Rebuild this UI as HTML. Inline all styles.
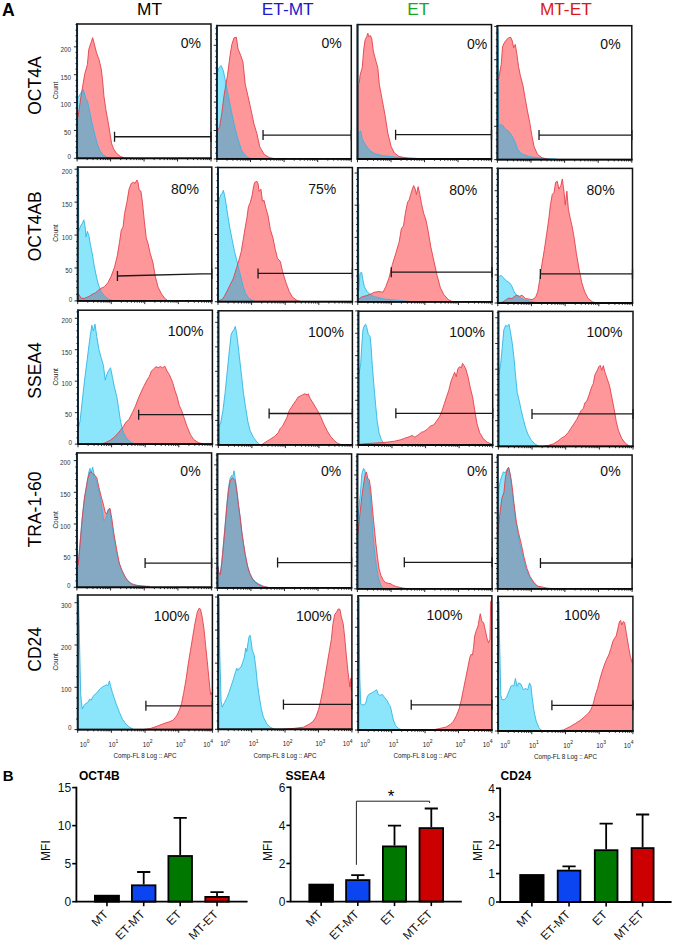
<!DOCTYPE html>
<html><head><meta charset="utf-8"><title>Figure</title>
<style>html,body{margin:0;padding:0;background:#fff;width:675px;height:943px;overflow:hidden}
svg{display:block;font-family:"Liberation Sans",sans-serif}</style></head>
<body><svg width="675" height="943" viewBox="0 0 675 943" font-family="'Liberation Sans', sans-serif"><defs><clipPath id="pc1"><rect x="77.1" y="24" width="133.9" height="134.3"/></clipPath><clipPath id="rc1"><polygon points="77.1,158.3 77.1,117.11 78,117.11 81.19,94.96 84.69,74.21 87.38,64.59 88.78,49.36 90.88,43.14 92.68,37.63 94.27,43.84 96.37,52.16 99.07,59.78 101.16,68.7 102.56,79.82 103.96,96.36 105.96,110.19 108.75,125.43 111.55,143.37 113.55,148.88 116.34,153.09 120.44,156.5 124.63,157.9 132.92,158.3 132.92,158.3"/></clipPath><clipPath id="pc2"><rect x="216.9" y="25.6" width="134.4" height="133.3"/></clipPath><clipPath id="rc2"><polygon points="216.9,158.9 216.9,131.1 217.2,131.1 219.61,126.7 221.81,113.3 224.02,95.6 227.43,75.6 230.04,55.6 231.84,44.4 234.05,37.8 236.36,37.3 238.06,48.9 240.77,55.6 242.98,62.2 245.28,84.4 247.89,95.6 250.8,108.9 254.11,124.4 256.82,133.3 259.73,146.7 264.14,154.4 269.76,157.8 276.48,158.9 276.48,158.9"/></clipPath><clipPath id="pc3"><rect x="357.5" y="24.6" width="134" height="134.4"/></clipPath><clipPath id="rc3"><polygon points="357.5,159 357.5,83.17 359.3,83.17 360,75.49 362.2,67.7 363.8,48.85 365.1,39.97 366.7,36.67 367.8,33.28 368.9,36.67 370.4,35.58 371.8,38.87 373.3,51.04 375.6,59.92 377.8,67.7 379.3,84.27 382.2,99.83 385.1,115.4 387.8,133.06 391.1,146.43 394.4,153.01 398.9,156.41 407.8,158.3 407.8,159"/></clipPath><clipPath id="pc4"><rect x="497.4" y="25.7" width="134.4" height="133.9"/></clipPath><clipPath id="rc4"><polygon points="497.4,159.6 497.4,78.9 498.5,78.9 499.61,73.3 501.21,64.4 502.52,46.7 504.02,43.3 506.33,40 508.53,37.8 510.74,37.3 512.34,41.1 513.65,47.8 515.25,44.4 516.76,53.3 518.56,66.7 520.37,75.6 522.98,85.6 525.28,98.9 527.49,111.1 529.7,122.2 531.9,135.6 534.11,146.7 537.52,154.4 541.93,157.8 547.55,159.1 547.55,159.6"/></clipPath><clipPath id="pc5"><rect x="77.7" y="167.1" width="134.1" height="133.8"/></clipPath><clipPath id="rc5"><polygon points="77.7,300.9 77.7,293.77 78.4,293.77 81.11,298.29 84.43,298.29 88.94,296.48 92.25,294.28 95.67,292.67 98.98,289.76 101.19,288.25 104.5,286.65 107.91,282.63 111.22,276.01 114.54,267.07 117.25,255.93 119.46,242.48 121.26,230.24 123.07,226.92 124.57,213.47 126.88,202.33 129.09,188.98 131.3,183.36 133.51,182.26 135.11,183.36 136.92,180.05 138.02,182.26 139.13,190.09 140.94,191.19 142.44,202.33 144.25,220.2 146.26,238.07 148.06,243.59 150.27,253.62 152.98,262.56 155.19,276.01 158.1,287.15 161.41,293.77 164.72,298.29 168.14,300.9 168.14,300.9"/></clipPath><clipPath id="pc6"><rect x="218" y="167.5" width="134.4" height="134.2"/></clipPath><clipPath id="rc6"><polygon points="218,301.7 218,300.6 218.91,300.6 222.23,299.49 224.44,296.18 226.75,291.67 230.07,284.95 233.39,278.33 236.81,267.2 239.43,258.27 241.24,251.55 243.45,238.21 245.26,227.08 246.87,218.15 248.38,207.02 250.19,202.5 252,195.88 253.51,186.96 254.62,182.44 256.93,181.34 258.04,183.55 259.14,191.37 260.96,189.16 262.46,201.4 264.07,200.3 265.89,208.12 268.1,215.94 270.31,229.28 273.03,238.21 275.24,249.34 277.45,258.27 280.37,261.58 282.58,271.61 286,282.74 289.32,291.67 292.64,297.29 297.17,300.6 301.6,301.7 301.6,301.7"/></clipPath><clipPath id="pc7"><rect x="357.8" y="167.8" width="134.2" height="134"/></clipPath><clipPath id="rc7"><polygon points="357.8,301.8 357.8,298.9 358.91,298.9 362.22,296.7 366.75,295.6 371.17,293.8 374.49,292.2 379.01,291.6 383.03,292.2 385.75,286.7 389.06,277.8 392.38,264.4 395.8,253.3 399.12,242.2 401.33,228.9 403.54,225.6 405.35,213.3 407.56,202.2 409.17,200 410.68,194.4 412.08,190 413.59,185.6 415.2,188.9 416.51,194.4 418.11,186.7 419.62,193.3 421.43,203.3 423.64,213.3 425.96,220 428.17,231.1 430.78,246.7 433.7,260 437.11,275.6 440.43,287.8 443.75,294.4 448.27,299.6 452.69,301.8 452.69,301.8"/></clipPath><clipPath id="pc8"><rect x="497.8" y="168.4" width="134.7" height="134.6"/></clipPath><clipPath id="rc8"><polygon points="497.8,303 497.8,303 498.51,303 502.94,301.89 506.37,299.68 508.59,298.07 511.92,298.57 514.64,296.36 516.86,295.15 519.78,296.36 522,295.15 525.43,298.57 528.75,298.98 532.08,299.68 535.51,297.47 537.73,291.83 539.94,278.45 542.16,262.76 544.38,249.38 546.7,233.69 548.92,218.1 550.43,204.62 552.24,194.56 554.06,192.34 555.67,182.28 557.18,181.18 559,189.02 560.81,185.7 562.33,178.96 563.94,191.24 565.25,204.62 566.86,191.24 568.38,209.14 570.19,218.1 572.01,225.94 574.22,238.21 576.44,253.81 579.16,269.5 581.89,282.88 584.71,291.83 588.14,298.57 592.57,301.89 597.11,303 597.11,303"/></clipPath><clipPath id="pc9"><rect x="78" y="310.2" width="134.4" height="133.9"/></clipPath><clipPath id="rc9"><polygon points="101.2,444.1 101.2,444.1 105.72,442.59 110.14,440.38 114.56,436.96 119.08,432.04 123.1,426.91 125.81,422.49 129.13,419.17 132.44,412.43 135.16,406.81 138.07,399.06 140.98,392.33 143.59,386.7 147.01,380.07 149.22,376.65 151.43,371.12 153.64,368.91 155.95,366.59 158.16,367.7 160.37,366.59 162.58,367.7 164.79,366.19 167.1,371.12 169.31,374.44 172.62,382.28 174.83,390.12 177.14,396.75 179.35,405.7 181.56,410.22 183.77,416.86 187.19,426.91 190.5,434.75 193.82,439.68 198.34,442.59 203.86,444.1 203.86,444.1"/></clipPath><clipPath id="pc10"><rect x="218.4" y="310.8" width="134" height="134.1"/></clipPath><clipPath id="rc10"><polygon points="261.29,444.9 261.29,444.9 265.81,441.97 270.23,439.25 274.65,436.32 278.07,432.99 280.28,428.45 282.49,426.23 284.7,421.79 287.01,417.25 289.22,410.59 291.43,407.16 293.64,403.83 295.95,400.5 298.16,397.07 300.37,395.96 302.58,394.85 304.79,393.74 307.1,394.85 308.2,393.74 310.01,398.18 312.22,401.61 314.83,406.05 317.54,410.59 320.46,416.14 323.77,424.01 327.19,430.77 330.5,436.32 333.82,440.16 337.23,443.08 341.65,444.9 341.65,444.9"/></clipPath><clipPath id="pc11"><rect x="358.4" y="311.2" width="134.3" height="133.8"/></clipPath><clipPath id="rc11"><polygon points="358.4,445 358.4,444.3 358.9,444.3 367.86,443.49 379.04,442.79 388,442.08 394.64,441.17 400.28,439.87 404.71,438.25 409.24,436.74 412.16,435.44 414.78,437.15 418.2,434.93 421.52,432.21 423.74,431.61 427.16,429.4 430.48,425.97 433.81,424.86 436.12,421.54 439.44,417.01 442.16,410.37 444.38,403.62 446.59,396.88 448.81,390.23 451.02,381.27 452.83,376.74 454.64,372.31 456.26,376.74 457.77,368.99 459.58,366.67 461.39,367.78 462.5,363.35 464.01,365.57 465.82,368.99 468.03,376.74 470.35,387.92 472.57,396.88 474.78,410.37 476.99,423.76 479.71,432.72 483.04,438.25 486.86,442.08 492,444.3 492,445"/></clipPath><clipPath id="pc12"><rect x="498.4" y="311.4" width="134.6" height="135"/></clipPath><clipPath id="rc12"><polygon points="542.46,446.4 542.46,446.4 548.1,445.49 553.63,443.78 558.16,440.85 561.47,438.13 564.79,436.31 568.21,432.48 570.83,428.44 573.75,424 576.67,419.56 578.88,415.02 581.19,410.58 583.41,408.26 584.91,402.71 586.52,401.6 588.33,397.06 590.15,391.51 591.65,386.97 593.26,383.64 594.97,374.66 597.29,370.22 598.8,366.79 600.21,365.28 601.71,370.22 603.32,365.68 605.03,372.44 607.35,379.2 609.56,385.86 611.77,397.06 613.99,408.26 616.3,421.78 618.51,430.76 621.83,438.53 625.15,443.07 629.68,446.4 629.68,446.4"/></clipPath><clipPath id="pc13"><rect x="76.9" y="452.9" width="134.7" height="134.4"/></clipPath><clipPath id="rc13"><polygon points="76.9,587.3 76.9,565.25 78.2,565.25 80,545.21 82.2,518.45 84.4,498.4 87.8,478.36 90,471.74 92.2,472.84 94.4,475.05 96.7,477.25 98.9,487.28 101.1,496.2 103.3,504.01 105.1,511.83 106.7,514.04 108.2,509.53 110,508.42 111.8,518.45 114,534.08 116.7,549.62 119.3,563.05 122.2,570.86 125.6,577.48 128.9,581.99 133.3,584.89 141.1,586 150,586.4 150,587.3"/></clipPath><clipPath id="pc14"><rect x="217.4" y="453.9" width="134.2" height="134"/></clipPath><clipPath id="rc14"><polygon points="217.4,587.9 217.4,566.93 218,566.93 218.9,573.48 220.31,574.49 221.81,562.89 223.42,545.75 225.22,525.59 226.93,505.42 228.53,490.3 230.04,481.22 231.84,478.2 232.95,477.7 234.05,479.21 235.25,481.22 236.76,490.3 238.56,505.42 240.37,518.83 241.87,532.34 243.48,543.54 245.28,554.73 247.49,565.92 249.7,573.48 252.4,579.03 255.31,582.56 258.62,584.57 263.04,586.59 271.76,587.9 271.76,587.9"/></clipPath><clipPath id="pc15"><rect x="357.4" y="454.3" width="134.7" height="134.5"/></clipPath><clipPath id="rc15"><polygon points="357.4,588.8 357.4,532.63 358,532.63 359.61,516.84 361.83,496.6 363.44,485.37 365.25,474.14 366.36,471.91 367.87,478.59 369.28,479.7 370.79,489.82 372.4,507.84 374.11,525.85 375.92,543.87 377.53,557.33 379.04,568.56 380.86,575.34 383.07,579.79 385.39,582.53 388,583.23 390.92,583.84 393.14,585.46 396.56,586.57 400.99,587.69 407.74,588.8 407.74,588.8"/></clipPath><clipPath id="pc16"><rect x="497.7" y="455" width="134.4" height="133.8"/></clipPath><clipPath id="rc16"><polygon points="497.7,588.8 497.7,534.85 497.9,534.85 499.51,516.84 501.72,498.82 503.94,492.14 505.55,476.36 507.36,469.57 508.67,467.35 510.68,476.36 512.29,487.59 514,503.38 516.31,521.39 518.52,532.63 521.24,543.86 524.06,557.32 526.97,568.56 530.09,576.45 533.71,582.12 537.54,586.17 541.96,586.98 547.6,588.19 556.55,588.8 556.55,588.8"/></clipPath><clipPath id="pc17"><rect x="77.7" y="595" width="134.7" height="134.6"/></clipPath><clipPath id="rc17"><polygon points="143.59,729.6 143.59,729.5 150.32,728.5 157.05,726.2 163.68,723.6 169.31,721.8 173.13,720.2 176.64,715.8 179.35,710.2 181.56,703.6 183.77,692.4 186.08,679.1 188.29,663.6 190.5,650.2 192.71,636.9 194.92,623.6 197.23,612.4 198.94,608.4 200.55,609.1 202.15,616.9 203.86,628 205.67,645.8 207.28,661.3 208.78,676.9 210.59,694.7 211.8,692.4 211.8,729.6"/></clipPath><clipPath id="pc18"><rect x="218.2" y="595.1" width="133.7" height="134.2"/></clipPath><clipPath id="rc18"><polygon points="283.45,729.3 283.45,729.3 294.57,728.3 303.49,727.2 309.1,724.29 312.91,721.58 315.82,717.17 318.63,709.36 320.93,699.33 323.14,688.21 325.34,674.88 327.55,661.45 329.85,648.12 331.35,639.2 332.96,623.66 334.66,614.74 336.97,611.34 338.07,609.13 339.87,609.13 341.38,616.95 343.18,623.66 344.68,636.99 346.29,654.83 348.09,672.57 349.9,687.11 351,678.19 351.4,690.41 351.4,729.3"/></clipPath><clipPath id="pc19"><rect x="358.2" y="595.8" width="133.7" height="134.2"/></clipPath><clipPath id="rc19"><polygon points="432.37,730 432.37,730 439.08,728.59 445.8,727.18 450.21,724.56 453.51,721.13 456.42,715.59 459.13,708.84 461.33,699.88 463.54,688.69 465.84,677.51 468.05,666.33 469.85,657.36 471.35,654.03 472.46,655.14 473.56,647.28 474.66,636.1 476.26,630.46 478.07,626.03 479.17,619.27 480.27,613.73 481.88,621.49 483.58,622.6 485.39,630.46 486.99,638.32 488.49,642.75 489.9,639.43 490.7,601.34 491.4,600.23 491.4,730"/></clipPath><clipPath id="pc20"><rect x="498.1" y="596.4" width="134.8" height="134.6"/></clipPath><clipPath id="rc20"><polygon points="556.84,731 556.84,731 563.49,729.89 570.24,726.57 575.88,723.15 580.31,720.34 583.63,717.62 586.35,714.9 588.57,713.09 590.79,709.77 593.1,704.24 595.32,695.29 597.54,688.55 599.75,679.59 602.07,671.75 604.29,665.11 606.5,659.47 608.72,655.05 610.94,648.31 612.75,641.57 614.56,638.25 616.18,636.04 617.69,629.3 619.5,621.45 620.61,620.34 621.72,624.87 623.33,621.45 624.64,622.56 626.25,632.62 628.47,646.1 630.28,656.16 632.19,662.79 632.19,731"/></clipPath></defs><rect width="675" height="943" fill="#fff"/><g clip-path="url(#pc1)">
<g fill="#8be6fb"><polygon points="77.1,158.3 77.1,97.76 78,97.76 80.49,93.56 83.29,89.45 84.89,94.96 85.99,99.17 87.38,100.47 88.78,107.39 90.88,117.11 92.88,126.83 94.97,135.05 97.07,143.37 99.77,150.28 102.56,154.39 106.66,157.2 112.15,158.3 112.15,158.3"/></g>
<polygon points="77.1,158.3 77.1,117.11 78,117.11 81.19,94.96 84.69,74.21 87.38,64.59 88.78,49.36 90.88,43.14 92.68,37.63 94.27,43.84 96.37,52.16 99.07,59.78 101.16,68.7 102.56,79.82 103.96,96.36 105.96,110.19 108.75,125.43 111.55,143.37 113.55,148.88 116.34,153.09 120.44,156.5 124.63,157.9 132.92,158.3 132.92,158.3" fill="#fd979a"/>
<g fill="#86a9c3" clip-path="url(#rc1)"><polygon points="77.1,158.3 77.1,97.76 78,97.76 80.49,93.56 83.29,89.45 84.89,94.96 85.99,99.17 87.38,100.47 88.78,107.39 90.88,117.11 92.88,126.83 94.97,135.05 97.07,143.37 99.77,150.28 102.56,154.39 106.66,157.2 112.15,158.3 112.15,158.3"/></g>
<polyline points="78,97.76 80.49,93.56 83.29,89.45 84.89,94.96 85.99,99.17 87.38,100.47 88.78,107.39 90.88,117.11 92.88,126.83 94.97,135.05 97.07,143.37 99.77,150.28 102.56,154.39 106.66,157.2 112.15,158.3" fill="none" stroke="#34b4e4" stroke-width="0.9" stroke-linejoin="round"/>
<polyline points="78,117.11 81.19,94.96 84.69,74.21 87.38,64.59 88.78,49.36 90.88,43.14 92.68,37.63 94.27,43.84 96.37,52.16 99.07,59.78 101.16,68.7 102.56,79.82 103.96,96.36 105.96,110.19 108.75,125.43 111.55,143.37 113.55,148.88 116.34,153.09 120.44,156.5 124.63,157.9 132.92,158.3" fill="none" stroke="#e4404b" stroke-width="0.9" stroke-linejoin="round"/>
</g>
<rect x="77.1" y="24" width="133.9" height="134.3" fill="none" stroke="#111" stroke-width="1.5"/>
<path d="M77.1 23.3V159" stroke="#0c2433" stroke-width="1.9"/>
<path d="M76.4 158.3H211.7" stroke="#0a0a0a" stroke-width="1.8"/>
<path d="M77.1 158.3V161.5M87.18 158.3V160.1M93.07 158.3V160.1M97.25 158.3V160.1M100.5 158.3V160.1M103.15 158.3V160.1M105.39 158.3V160.1M107.33 158.3V160.1M109.04 158.3V160.1M110.57 158.3V161.5M120.65 158.3V160.1M126.55 158.3V160.1M130.73 158.3V160.1M133.97 158.3V160.1M136.62 158.3V160.1M138.86 158.3V160.1M140.81 158.3V160.1M142.52 158.3V160.1M144.05 158.3V161.5M154.13 158.3V160.1M160.02 158.3V160.1M164.2 158.3V160.1M167.45 158.3V160.1M170.1 158.3V160.1M172.34 158.3V160.1M174.28 158.3V160.1M175.99 158.3V160.1M177.53 158.3V161.5M187.6 158.3V160.1M193.5 158.3V160.1M197.68 158.3V160.1M200.92 158.3V160.1M203.57 158.3V160.1M205.81 158.3V160.1M207.76 158.3V160.1M209.47 158.3V160.1M211 158.3V161.5M77.1 158.3H73.9M77.1 152.73H75.5M77.1 147.16H75.5M77.1 141.58H75.5M77.1 136.01H75.5M77.1 130.44H73.9M77.1 124.87H75.5M77.1 119.29H75.5M77.1 113.72H75.5M77.1 108.15H75.5M77.1 102.58H73.9M77.1 97H75.5M77.1 91.43H75.5M77.1 85.86H75.5M77.1 80.29H75.5M77.1 74.71H73.9M77.1 69.14H75.5M77.1 63.57H75.5M77.1 58H75.5M77.1 52.42H75.5M77.1 46.85H73.9M77.1 41.28H75.5M77.1 35.71H75.5M77.1 30.13H75.5M77.1 24.56H75.5" stroke="#111" stroke-width="0.9" fill="none"/>
<path d="M114.54 136.75L211 136.75 M114.54 131.75V141.75 M211 131.75V141.75" stroke="#1a1a1a" stroke-width="1.3" fill="none"/>
<text x="200.9" y="48.2" font-size="14" text-anchor="end" fill="#111">0%</text>
<text x="71" y="158.95" font-size="6.3" text-anchor="end" fill="#333">0</text>
<text x="71" y="135.29" font-size="6.3" text-anchor="end" fill="#333">50</text>
<text x="71" y="107.43" font-size="6.3" text-anchor="end" fill="#333">100</text>
<text x="71" y="79.56" font-size="6.3" text-anchor="end" fill="#333">150</text>
<text x="71" y="51.7" font-size="6.3" text-anchor="end" fill="#333">200</text>
<text transform="translate(57.6 90.4) rotate(-90)" font-size="6.5" text-anchor="middle" fill="#222">Count</text>
<text transform="translate(41 85.6) rotate(-90)" font-size="17.5" text-anchor="middle" fill="#000">OCT4A</text>
<g clip-path="url(#pc2)">
<g fill="#8be6fb"><polygon points="216.9,158.9 216.9,72.2 217.5,72.2 218.91,67.8 221.21,65.6 223.42,71.1 225.63,82.2 228.53,96.7 231.84,113.3 235.25,128.9 238.56,141.1 241.87,151.1 246.39,156.7 251.9,158.9 251.9,158.9"/></g>
<polygon points="216.9,158.9 216.9,131.1 217.2,131.1 219.61,126.7 221.81,113.3 224.02,95.6 227.43,75.6 230.04,55.6 231.84,44.4 234.05,37.8 236.36,37.3 238.06,48.9 240.77,55.6 242.98,62.2 245.28,84.4 247.89,95.6 250.8,108.9 254.11,124.4 256.82,133.3 259.73,146.7 264.14,154.4 269.76,157.8 276.48,158.9 276.48,158.9" fill="#fd979a"/>
<g fill="#86a9c3" clip-path="url(#rc2)"><polygon points="216.9,158.9 216.9,72.2 217.5,72.2 218.91,67.8 221.21,65.6 223.42,71.1 225.63,82.2 228.53,96.7 231.84,113.3 235.25,128.9 238.56,141.1 241.87,151.1 246.39,156.7 251.9,158.9 251.9,158.9"/></g>
<polyline points="217.5,72.2 218.91,67.8 221.21,65.6 223.42,71.1 225.63,82.2 228.53,96.7 231.84,113.3 235.25,128.9 238.56,141.1 241.87,151.1 246.39,156.7 251.9,158.9" fill="none" stroke="#34b4e4" stroke-width="0.9" stroke-linejoin="round"/>
<polyline points="217.2,131.1 219.61,126.7 221.81,113.3 224.02,95.6 227.43,75.6 230.04,55.6 231.84,44.4 234.05,37.8 236.36,37.3 238.06,48.9 240.77,55.6 242.98,62.2 245.28,84.4 247.89,95.6 250.8,108.9 254.11,124.4 256.82,133.3 259.73,146.7 264.14,154.4 269.76,157.8 276.48,158.9" fill="none" stroke="#e4404b" stroke-width="0.9" stroke-linejoin="round"/>
</g>
<rect x="216.9" y="25.6" width="134.4" height="133.3" fill="none" stroke="#111" stroke-width="1.5"/>
<path d="M216.9 24.9V159.6" stroke="#0c2433" stroke-width="1.9"/>
<path d="M216.2 158.9H352" stroke="#0a0a0a" stroke-width="1.8"/>
<path d="M216.9 158.9V162.1M227.01 158.9V160.7M232.93 158.9V160.7M237.13 158.9V160.7M240.39 158.9V160.7M243.05 158.9V160.7M245.3 158.9V160.7M247.24 158.9V160.7M248.96 158.9V160.7M250.5 158.9V162.1M260.61 158.9V160.7M266.53 158.9V160.7M270.73 158.9V160.7M273.99 158.9V160.7M276.65 158.9V160.7M278.9 158.9V160.7M280.84 158.9V160.7M282.56 158.9V160.7M284.1 158.9V162.1M294.21 158.9V160.7M300.13 158.9V160.7M304.33 158.9V160.7M307.59 158.9V160.7M310.25 158.9V160.7M312.5 158.9V160.7M314.44 158.9V160.7M316.16 158.9V160.7M317.7 158.9V162.1M327.81 158.9V160.7M333.73 158.9V160.7M337.93 158.9V160.7M341.19 158.9V160.7M343.85 158.9V160.7M346.1 158.9V160.7M348.04 158.9V160.7M349.76 158.9V160.7M351.3 158.9V162.1M216.9 158.9H213.7M216.9 153.22H215.3M216.9 147.54H215.3M216.9 141.86H215.3M216.9 136.18H215.3M216.9 130.5H213.7M216.9 124.82H215.3M216.9 119.14H215.3M216.9 113.46H215.3M216.9 107.78H215.3M216.9 102.1H213.7M216.9 96.42H215.3M216.9 90.74H215.3M216.9 85.06H215.3M216.9 79.38H215.3M216.9 73.7H213.7M216.9 68.02H215.3M216.9 62.34H215.3M216.9 56.66H215.3M216.9 50.98H215.3M216.9 45.3H213.7M216.9 39.62H215.3M216.9 33.94H215.3M216.9 28.26H215.3" stroke="#111" stroke-width="0.9" fill="none"/>
<path d="M263.04 135.1L351.3 135.1 M263.04 130.1V140.1 M351.3 130.1V140.1" stroke="#1a1a1a" stroke-width="1.3" fill="none"/>
<text x="341.7" y="48.4" font-size="14" text-anchor="end" fill="#111">0%</text>
<g clip-path="url(#pc3)">
<g fill="#8be6fb"><polygon points="357.5,159 357.5,131.96 359.3,131.96 360.7,130.86 362.2,138.65 364.4,143.04 366.7,146.43 370,150.82 374.4,153.51 378.9,154.81 383.3,155.71 394.4,157 416.7,158.3 416.7,159"/></g>
<polygon points="357.5,159 357.5,83.17 359.3,83.17 360,75.49 362.2,67.7 363.8,48.85 365.1,39.97 366.7,36.67 367.8,33.28 368.9,36.67 370.4,35.58 371.8,38.87 373.3,51.04 375.6,59.92 377.8,67.7 379.3,84.27 382.2,99.83 385.1,115.4 387.8,133.06 391.1,146.43 394.4,153.01 398.9,156.41 407.8,158.3 407.8,159" fill="#fd979a"/>
<g fill="#86a9c3" clip-path="url(#rc3)"><polygon points="357.5,159 357.5,131.96 359.3,131.96 360.7,130.86 362.2,138.65 364.4,143.04 366.7,146.43 370,150.82 374.4,153.51 378.9,154.81 383.3,155.71 394.4,157 416.7,158.3 416.7,159"/></g>
<polyline points="359.3,131.96 360.7,130.86 362.2,138.65 364.4,143.04 366.7,146.43 370,150.82 374.4,153.51 378.9,154.81 383.3,155.71 394.4,157 416.7,158.3" fill="none" stroke="#34b4e4" stroke-width="0.9" stroke-linejoin="round"/>
<polyline points="359.3,83.17 360,75.49 362.2,67.7 363.8,48.85 365.1,39.97 366.7,36.67 367.8,33.28 368.9,36.67 370.4,35.58 371.8,38.87 373.3,51.04 375.6,59.92 377.8,67.7 379.3,84.27 382.2,99.83 385.1,115.4 387.8,133.06 391.1,146.43 394.4,153.01 398.9,156.41 407.8,158.3" fill="none" stroke="#e4404b" stroke-width="0.9" stroke-linejoin="round"/>
</g>
<rect x="357.5" y="24.6" width="134" height="134.4" fill="none" stroke="#111" stroke-width="1.5"/>
<path d="M357.5 23.9V159.7" stroke="#0c2433" stroke-width="1.9"/>
<path d="M356.8 159H492.2" stroke="#0a0a0a" stroke-width="1.8"/>
<path d="M357.5 159V162.2M367.58 159V160.8M373.48 159V160.8M377.67 159V160.8M380.92 159V160.8M383.57 159V160.8M385.81 159V160.8M387.75 159V160.8M389.47 159V160.8M391 159V162.2M401.08 159V160.8M406.98 159V160.8M411.17 159V160.8M414.42 159V160.8M417.07 159V160.8M419.31 159V160.8M421.25 159V160.8M422.97 159V160.8M424.5 159V162.2M434.58 159V160.8M440.48 159V160.8M444.67 159V160.8M447.92 159V160.8M450.57 159V160.8M452.81 159V160.8M454.75 159V160.8M456.47 159V160.8M458 159V162.2M468.08 159V160.8M473.98 159V160.8M478.17 159V160.8M481.42 159V160.8M484.07 159V160.8M486.31 159V160.8M488.25 159V160.8M489.97 159V160.8M491.5 159V162.2" stroke="#111" stroke-width="0.9" fill="none"/>
<path d="M395.6 134.65L491.5 134.65 M395.6 129.65V139.65 M491.5 129.65V139.65" stroke="#1a1a1a" stroke-width="1.3" fill="none"/>
<text x="487.3" y="48.7" font-size="14" text-anchor="end" fill="#111">0%</text>
<g clip-path="url(#pc4)">
<g fill="#8be6fb"><polygon points="497.4,159.6 497.4,40 498,40 498.5,126.7 500.71,124.4 502.92,125.6 505.22,128.9 508.53,131.1 511.84,135.6 515.25,142.2 517.46,148.9 519.67,152.2 522.98,154.4 529.7,156.7 540.83,158.2 556.48,159.1 556.48,159.6"/><rect x="497.4" y="29" width="1.7" height="130.6"/></g>
<polygon points="497.4,159.6 497.4,78.9 498.5,78.9 499.61,73.3 501.21,64.4 502.52,46.7 504.02,43.3 506.33,40 508.53,37.8 510.74,37.3 512.34,41.1 513.65,47.8 515.25,44.4 516.76,53.3 518.56,66.7 520.37,75.6 522.98,85.6 525.28,98.9 527.49,111.1 529.7,122.2 531.9,135.6 534.11,146.7 537.52,154.4 541.93,157.8 547.55,159.1 547.55,159.6" fill="#fd979a"/>
<g fill="#86a9c3" clip-path="url(#rc4)"><polygon points="497.4,159.6 497.4,40 498,40 498.5,126.7 500.71,124.4 502.92,125.6 505.22,128.9 508.53,131.1 511.84,135.6 515.25,142.2 517.46,148.9 519.67,152.2 522.98,154.4 529.7,156.7 540.83,158.2 556.48,159.1 556.48,159.6"/><rect x="497.4" y="29" width="1.7" height="130.6"/></g>
<polyline points="498,40 498.5,126.7 500.71,124.4 502.92,125.6 505.22,128.9 508.53,131.1 511.84,135.6 515.25,142.2 517.46,148.9 519.67,152.2 522.98,154.4 529.7,156.7 540.83,158.2 556.48,159.1" fill="none" stroke="#34b4e4" stroke-width="0.9" stroke-linejoin="round"/>
<polyline points="498.5,78.9 499.61,73.3 501.21,64.4 502.52,46.7 504.02,43.3 506.33,40 508.53,37.8 510.74,37.3 512.34,41.1 513.65,47.8 515.25,44.4 516.76,53.3 518.56,66.7 520.37,75.6 522.98,85.6 525.28,98.9 527.49,111.1 529.7,122.2 531.9,135.6 534.11,146.7 537.52,154.4 541.93,157.8 547.55,159.1" fill="none" stroke="#e4404b" stroke-width="0.9" stroke-linejoin="round"/>
</g>
<rect x="497.4" y="25.7" width="134.4" height="133.9" fill="none" stroke="#111" stroke-width="1.5"/>
<path d="M497.4 25V160.3" stroke="#0c2433" stroke-width="1.9"/>
<path d="M496.7 159.6H632.5" stroke="#0a0a0a" stroke-width="1.8"/>
<path d="M497.4 159.6V162.8M507.51 159.6V161.4M513.43 159.6V161.4M517.63 159.6V161.4M520.89 159.6V161.4M523.55 159.6V161.4M525.8 159.6V161.4M527.74 159.6V161.4M529.46 159.6V161.4M531 159.6V162.8M541.11 159.6V161.4M547.03 159.6V161.4M551.23 159.6V161.4M554.49 159.6V161.4M557.15 159.6V161.4M559.4 159.6V161.4M561.34 159.6V161.4M563.06 159.6V161.4M564.6 159.6V162.8M574.71 159.6V161.4M580.63 159.6V161.4M584.83 159.6V161.4M588.09 159.6V161.4M590.75 159.6V161.4M593 159.6V161.4M594.94 159.6V161.4M596.66 159.6V161.4M598.2 159.6V162.8M608.31 159.6V161.4M614.23 159.6V161.4M618.43 159.6V161.4M621.69 159.6V161.4M624.35 159.6V161.4M626.6 159.6V161.4M628.54 159.6V161.4M630.26 159.6V161.4M631.8 159.6V162.8M497.4 159.6H494.2M497.4 152.94H495.8M497.4 146.28H495.8M497.4 139.62H495.8M497.4 132.96H495.8M497.4 126.3H494.2M497.4 119.64H495.8M497.4 112.98H495.8M497.4 106.32H495.8M497.4 99.66H495.8M497.4 93H494.2M497.4 86.34H495.8M497.4 79.68H495.8M497.4 73.02H495.8M497.4 66.36H495.8M497.4 59.7H494.2M497.4 53.04H495.8M497.4 46.38H495.8M497.4 39.72H495.8M497.4 33.06H495.8M497.4 26.4H494.2" stroke="#111" stroke-width="0.9" fill="none"/>
<path d="M539.02 135.1L631.8 135.1 M539.02 130.1V140.1 M631.8 130.1V140.1" stroke="#1a1a1a" stroke-width="1.3" fill="none"/>
<text x="620.6" y="48.7" font-size="14" text-anchor="end" fill="#111">0%</text>
<g clip-path="url(#pc5)">
<g fill="#8be6fb"><polygon points="77.7,300.9 77.7,169.01 78.3,169.01 78.6,231.34 80.71,225.82 82.22,223.51 83.82,219.8 85.13,226.92 86.03,236.96 87.34,231.34 88.94,235.86 90.45,244.69 92.25,253.62 94.06,264.76 96.27,276.01 98.48,284.84 101.19,291.57 104.5,296.08 109.02,299.39 114.54,300.9 114.54,300.9"/><rect x="77.7" y="169.01" width="1.7" height="131.89"/></g>
<polygon points="77.7,300.9 77.7,293.77 78.4,293.77 81.11,298.29 84.43,298.29 88.94,296.48 92.25,294.28 95.67,292.67 98.98,289.76 101.19,288.25 104.5,286.65 107.91,282.63 111.22,276.01 114.54,267.07 117.25,255.93 119.46,242.48 121.26,230.24 123.07,226.92 124.57,213.47 126.88,202.33 129.09,188.98 131.3,183.36 133.51,182.26 135.11,183.36 136.92,180.05 138.02,182.26 139.13,190.09 140.94,191.19 142.44,202.33 144.25,220.2 146.26,238.07 148.06,243.59 150.27,253.62 152.98,262.56 155.19,276.01 158.1,287.15 161.41,293.77 164.72,298.29 168.14,300.9 168.14,300.9" fill="#fd979a"/>
<g fill="#86a9c3" clip-path="url(#rc5)"><polygon points="77.7,300.9 77.7,169.01 78.3,169.01 78.6,231.34 80.71,225.82 82.22,223.51 83.82,219.8 85.13,226.92 86.03,236.96 87.34,231.34 88.94,235.86 90.45,244.69 92.25,253.62 94.06,264.76 96.27,276.01 98.48,284.84 101.19,291.57 104.5,296.08 109.02,299.39 114.54,300.9 114.54,300.9"/><rect x="77.7" y="169.01" width="1.7" height="131.89"/></g>
<polyline points="78.3,169.01 78.6,231.34 80.71,225.82 82.22,223.51 83.82,219.8 85.13,226.92 86.03,236.96 87.34,231.34 88.94,235.86 90.45,244.69 92.25,253.62 94.06,264.76 96.27,276.01 98.48,284.84 101.19,291.57 104.5,296.08 109.02,299.39 114.54,300.9" fill="none" stroke="#34b4e4" stroke-width="0.9" stroke-linejoin="round"/>
<polyline points="78.4,293.77 81.11,298.29 84.43,298.29 88.94,296.48 92.25,294.28 95.67,292.67 98.98,289.76 101.19,288.25 104.5,286.65 107.91,282.63 111.22,276.01 114.54,267.07 117.25,255.93 119.46,242.48 121.26,230.24 123.07,226.92 124.57,213.47 126.88,202.33 129.09,188.98 131.3,183.36 133.51,182.26 135.11,183.36 136.92,180.05 138.02,182.26 139.13,190.09 140.94,191.19 142.44,202.33 144.25,220.2 146.26,238.07 148.06,243.59 150.27,253.62 152.98,262.56 155.19,276.01 158.1,287.15 161.41,293.77 164.72,298.29 168.14,300.9" fill="none" stroke="#e4404b" stroke-width="0.9" stroke-linejoin="round"/>
</g>
<rect x="77.7" y="167.1" width="134.1" height="133.8" fill="none" stroke="#111" stroke-width="1.5"/>
<path d="M77.7 166.4V301.6" stroke="#0c2433" stroke-width="1.9"/>
<path d="M77 300.9H212.5" stroke="#0a0a0a" stroke-width="1.8"/>
<path d="M77.7 300.9V304.1M87.79 300.9V302.7M93.7 300.9V302.7M97.88 300.9V302.7M101.13 300.9V302.7M103.79 300.9V302.7M106.03 300.9V302.7M107.98 300.9V302.7M109.69 300.9V302.7M111.23 300.9V304.1M121.32 300.9V302.7M127.22 300.9V302.7M131.41 300.9V302.7M134.66 300.9V302.7M137.31 300.9V302.7M139.56 300.9V302.7M141.5 300.9V302.7M143.22 300.9V302.7M144.75 300.9V304.1M154.84 300.9V302.7M160.75 300.9V302.7M164.93 300.9V302.7M168.18 300.9V302.7M170.84 300.9V302.7M173.08 300.9V302.7M175.03 300.9V302.7M176.74 300.9V302.7M178.28 300.9V304.1M188.37 300.9V302.7M194.27 300.9V302.7M198.46 300.9V302.7M201.71 300.9V302.7M204.36 300.9V302.7M206.61 300.9V302.7M208.55 300.9V302.7M210.27 300.9V302.7M211.8 300.9V304.1M77.7 300.9H74.5M77.7 294.32H76.1M77.7 287.73H76.1M77.7 281.15H76.1M77.7 274.56H76.1M77.7 267.98H74.5M77.7 261.39H76.1M77.7 254.81H76.1M77.7 248.22H76.1M77.7 241.64H76.1M77.7 235.05H74.5M77.7 228.47H76.1M77.7 221.88H76.1M77.7 215.3H76.1M77.7 208.72H76.1M77.7 202.13H74.5M77.7 195.55H76.1M77.7 188.96H76.1M77.7 182.38H76.1M77.7 175.79H76.1M77.7 169.21H74.5" stroke="#111" stroke-width="0.9" fill="none"/>
<path d="M117.45 276.01L211.8 273.7 M117.45 271.01V281.01 M211.8 268.7V278.7" stroke="#1a1a1a" stroke-width="1.3" fill="none"/>
<text x="199" y="194.4" font-size="14" text-anchor="end" fill="#111">80%</text>
<text x="72.3" y="301.55" font-size="6.3" text-anchor="end" fill="#333">0</text>
<text x="72.3" y="272.83" font-size="6.3" text-anchor="end" fill="#333">50</text>
<text x="72.3" y="239.9" font-size="6.3" text-anchor="end" fill="#333">100</text>
<text x="72.3" y="206.98" font-size="6.3" text-anchor="end" fill="#333">150</text>
<text x="72.3" y="174.06" font-size="6.3" text-anchor="end" fill="#333">200</text>
<text transform="translate(57.6 233) rotate(-90)" font-size="6.5" text-anchor="middle" fill="#222">Count</text>
<text transform="translate(41 226.3) rotate(-90)" font-size="17.5" text-anchor="middle" fill="#000">OCT4AB</text>
<g clip-path="url(#pc6)">
<g fill="#8be6fb"><polygon points="218,301.7 218,207.02 218.4,207.02 219.31,199.19 220.72,194.68 222.23,193.58 223.33,190.27 224.74,195.88 226.05,203.61 227.86,215.94 230.07,229.28 232.29,240.42 234.5,251.55 236.81,260.48 239.03,269.4 241.24,278.33 243.45,287.26 245.77,293.88 249.09,298.39 254.62,301.7 254.62,301.7"/></g>
<polygon points="218,301.7 218,300.6 218.91,300.6 222.23,299.49 224.44,296.18 226.75,291.67 230.07,284.95 233.39,278.33 236.81,267.2 239.43,258.27 241.24,251.55 243.45,238.21 245.26,227.08 246.87,218.15 248.38,207.02 250.19,202.5 252,195.88 253.51,186.96 254.62,182.44 256.93,181.34 258.04,183.55 259.14,191.37 260.96,189.16 262.46,201.4 264.07,200.3 265.89,208.12 268.1,215.94 270.31,229.28 273.03,238.21 275.24,249.34 277.45,258.27 280.37,261.58 282.58,271.61 286,282.74 289.32,291.67 292.64,297.29 297.17,300.6 301.6,301.7 301.6,301.7" fill="#fd979a"/>
<g fill="#86a9c3" clip-path="url(#rc6)"><polygon points="218,301.7 218,207.02 218.4,207.02 219.31,199.19 220.72,194.68 222.23,193.58 223.33,190.27 224.74,195.88 226.05,203.61 227.86,215.94 230.07,229.28 232.29,240.42 234.5,251.55 236.81,260.48 239.03,269.4 241.24,278.33 243.45,287.26 245.77,293.88 249.09,298.39 254.62,301.7 254.62,301.7"/></g>
<polyline points="218.4,207.02 219.31,199.19 220.72,194.68 222.23,193.58 223.33,190.27 224.74,195.88 226.05,203.61 227.86,215.94 230.07,229.28 232.29,240.42 234.5,251.55 236.81,260.48 239.03,269.4 241.24,278.33 243.45,287.26 245.77,293.88 249.09,298.39 254.62,301.7" fill="none" stroke="#34b4e4" stroke-width="0.9" stroke-linejoin="round"/>
<polyline points="218.91,300.6 222.23,299.49 224.44,296.18 226.75,291.67 230.07,284.95 233.39,278.33 236.81,267.2 239.43,258.27 241.24,251.55 243.45,238.21 245.26,227.08 246.87,218.15 248.38,207.02 250.19,202.5 252,195.88 253.51,186.96 254.62,182.44 256.93,181.34 258.04,183.55 259.14,191.37 260.96,189.16 262.46,201.4 264.07,200.3 265.89,208.12 268.1,215.94 270.31,229.28 273.03,238.21 275.24,249.34 277.45,258.27 280.37,261.58 282.58,271.61 286,282.74 289.32,291.67 292.64,297.29 297.17,300.6 301.6,301.7" fill="none" stroke="#e4404b" stroke-width="0.9" stroke-linejoin="round"/>
</g>
<rect x="218" y="167.5" width="134.4" height="134.2" fill="none" stroke="#111" stroke-width="1.5"/>
<path d="M218 166.8V302.4" stroke="#0c2433" stroke-width="1.9"/>
<path d="M217.3 301.7H353.1" stroke="#0a0a0a" stroke-width="1.8"/>
<path d="M218 301.7V304.9M228.11 301.7V303.5M234.03 301.7V303.5M238.23 301.7V303.5M241.49 301.7V303.5M244.15 301.7V303.5M246.4 301.7V303.5M248.34 301.7V303.5M250.06 301.7V303.5M251.6 301.7V304.9M261.71 301.7V303.5M267.63 301.7V303.5M271.83 301.7V303.5M275.09 301.7V303.5M277.75 301.7V303.5M280 301.7V303.5M281.94 301.7V303.5M283.66 301.7V303.5M285.2 301.7V304.9M295.31 301.7V303.5M301.23 301.7V303.5M305.43 301.7V303.5M308.69 301.7V303.5M311.35 301.7V303.5M313.6 301.7V303.5M315.54 301.7V303.5M317.26 301.7V303.5M318.8 301.7V304.9M328.91 301.7V303.5M334.83 301.7V303.5M339.03 301.7V303.5M342.29 301.7V303.5M344.95 301.7V303.5M347.2 301.7V303.5M349.14 301.7V303.5M350.86 301.7V303.5M352.4 301.7V304.9M218 301.7H214.8M218 294.98H216.4M218 288.26H216.4M218 281.54H216.4M218 274.82H216.4M218 268.1H214.8M218 261.38H216.4M218 254.66H216.4M218 247.94H216.4M218 241.22H216.4M218 234.5H214.8M218 227.78H216.4M218 221.06H216.4M218 214.34H216.4M218 207.62H216.4M218 200.9H214.8M218 194.18H216.4M218 187.46H216.4M218 180.74H216.4M218 174.02H216.4M218 167.3H214.8" stroke="#111" stroke-width="0.9" fill="none"/>
<path d="M258.04 273.42L352.4 273.42 M258.04 268.42V278.42 M352.4 268.42V278.42" stroke="#1a1a1a" stroke-width="1.3" fill="none"/>
<text x="336.2" y="194.4" font-size="14" text-anchor="end" fill="#111">75%</text>
<g clip-path="url(#pc7)">
<g fill="#8be6fb"><polygon points="357.8,301.8 357.8,204 358.3,204 358.7,291.1 360.01,273.3 361.62,272.2 362.93,280 364.43,286.7 366.75,291.1 370.06,294.4 374.49,296.7 383.43,298.9 394.59,300 412.49,301.8 412.49,301.8"/><rect x="357.8" y="204" width="1.7" height="97.8"/></g>
<polygon points="357.8,301.8 357.8,298.9 358.91,298.9 362.22,296.7 366.75,295.6 371.17,293.8 374.49,292.2 379.01,291.6 383.03,292.2 385.75,286.7 389.06,277.8 392.38,264.4 395.8,253.3 399.12,242.2 401.33,228.9 403.54,225.6 405.35,213.3 407.56,202.2 409.17,200 410.68,194.4 412.08,190 413.59,185.6 415.2,188.9 416.51,194.4 418.11,186.7 419.62,193.3 421.43,203.3 423.64,213.3 425.96,220 428.17,231.1 430.78,246.7 433.7,260 437.11,275.6 440.43,287.8 443.75,294.4 448.27,299.6 452.69,301.8 452.69,301.8" fill="#fd979a"/>
<g fill="#86a9c3" clip-path="url(#rc7)"><polygon points="357.8,301.8 357.8,204 358.3,204 358.7,291.1 360.01,273.3 361.62,272.2 362.93,280 364.43,286.7 366.75,291.1 370.06,294.4 374.49,296.7 383.43,298.9 394.59,300 412.49,301.8 412.49,301.8"/><rect x="357.8" y="204" width="1.7" height="97.8"/></g>
<polyline points="358.3,204 358.7,291.1 360.01,273.3 361.62,272.2 362.93,280 364.43,286.7 366.75,291.1 370.06,294.4 374.49,296.7 383.43,298.9 394.59,300 412.49,301.8" fill="none" stroke="#34b4e4" stroke-width="0.9" stroke-linejoin="round"/>
<polyline points="358.91,298.9 362.22,296.7 366.75,295.6 371.17,293.8 374.49,292.2 379.01,291.6 383.03,292.2 385.75,286.7 389.06,277.8 392.38,264.4 395.8,253.3 399.12,242.2 401.33,228.9 403.54,225.6 405.35,213.3 407.56,202.2 409.17,200 410.68,194.4 412.08,190 413.59,185.6 415.2,188.9 416.51,194.4 418.11,186.7 419.62,193.3 421.43,203.3 423.64,213.3 425.96,220 428.17,231.1 430.78,246.7 433.7,260 437.11,275.6 440.43,287.8 443.75,294.4 448.27,299.6 452.69,301.8" fill="none" stroke="#e4404b" stroke-width="0.9" stroke-linejoin="round"/>
</g>
<rect x="357.8" y="167.8" width="134.2" height="134" fill="none" stroke="#111" stroke-width="1.5"/>
<path d="M357.8 167.1V302.5" stroke="#0c2433" stroke-width="1.9"/>
<path d="M357.1 301.8H492.7" stroke="#0a0a0a" stroke-width="1.8"/>
<path d="M357.8 301.8V305M367.9 301.8V303.6M373.81 301.8V303.6M378 301.8V303.6M381.25 301.8V303.6M383.91 301.8V303.6M386.15 301.8V303.6M388.1 301.8V303.6M389.81 301.8V303.6M391.35 301.8V305M401.45 301.8V303.6M407.36 301.8V303.6M411.55 301.8V303.6M414.8 301.8V303.6M417.46 301.8V303.6M419.7 301.8V303.6M421.65 301.8V303.6M423.36 301.8V303.6M424.9 301.8V305M435 301.8V303.6M440.91 301.8V303.6M445.1 301.8V303.6M448.35 301.8V303.6M451.01 301.8V303.6M453.25 301.8V303.6M455.2 301.8V303.6M456.91 301.8V303.6M458.45 301.8V305M468.55 301.8V303.6M474.46 301.8V303.6M478.65 301.8V303.6M481.9 301.8V303.6M484.56 301.8V303.6M486.8 301.8V303.6M488.75 301.8V303.6M490.46 301.8V303.6M492 301.8V305M357.8 301.8H354.6M357.8 295.36H356.2M357.8 288.92H356.2M357.8 282.48H356.2M357.8 276.04H356.2M357.8 269.6H354.6M357.8 263.16H356.2M357.8 256.72H356.2M357.8 250.28H356.2M357.8 243.84H356.2M357.8 237.4H354.6M357.8 230.96H356.2M357.8 224.52H356.2M357.8 218.08H356.2M357.8 211.64H356.2M357.8 205.2H354.6M357.8 198.76H356.2M357.8 192.32H356.2M357.8 185.88H356.2M357.8 179.44H356.2M357.8 173H354.6" stroke="#111" stroke-width="0.9" fill="none"/>
<path d="M391.27 272.2L492 272.2 M391.27 267.2V277.2 M492 267.2V277.2" stroke="#1a1a1a" stroke-width="1.3" fill="none"/>
<text x="477.3" y="194.9" font-size="14" text-anchor="end" fill="#111">80%</text>
<g clip-path="url(#pc8)">
<g fill="#8be6fb"><polygon points="497.8,303 497.8,277.35 498.51,277.35 500.72,275.03 502.94,277.35 506.37,280.67 509.7,282.88 511.92,286.3 514.13,291.83 516.45,295.15 519.78,297.47 524.22,299.68 529.86,301.19 538.84,303 538.84,303"/></g>
<polygon points="497.8,303 497.8,303 498.51,303 502.94,301.89 506.37,299.68 508.59,298.07 511.92,298.57 514.64,296.36 516.86,295.15 519.78,296.36 522,295.15 525.43,298.57 528.75,298.98 532.08,299.68 535.51,297.47 537.73,291.83 539.94,278.45 542.16,262.76 544.38,249.38 546.7,233.69 548.92,218.1 550.43,204.62 552.24,194.56 554.06,192.34 555.67,182.28 557.18,181.18 559,189.02 560.81,185.7 562.33,178.96 563.94,191.24 565.25,204.62 566.86,191.24 568.38,209.14 570.19,218.1 572.01,225.94 574.22,238.21 576.44,253.81 579.16,269.5 581.89,282.88 584.71,291.83 588.14,298.57 592.57,301.89 597.11,303 597.11,303" fill="#fd979a"/>
<g fill="#86a9c3" clip-path="url(#rc8)"><polygon points="497.8,303 497.8,277.35 498.51,277.35 500.72,275.03 502.94,277.35 506.37,280.67 509.7,282.88 511.92,286.3 514.13,291.83 516.45,295.15 519.78,297.47 524.22,299.68 529.86,301.19 538.84,303 538.84,303"/></g>
<polyline points="498.51,277.35 500.72,275.03 502.94,277.35 506.37,280.67 509.7,282.88 511.92,286.3 514.13,291.83 516.45,295.15 519.78,297.47 524.22,299.68 529.86,301.19 538.84,303" fill="none" stroke="#34b4e4" stroke-width="0.9" stroke-linejoin="round"/>
<polyline points="498.51,303 502.94,301.89 506.37,299.68 508.59,298.07 511.92,298.57 514.64,296.36 516.86,295.15 519.78,296.36 522,295.15 525.43,298.57 528.75,298.98 532.08,299.68 535.51,297.47 537.73,291.83 539.94,278.45 542.16,262.76 544.38,249.38 546.7,233.69 548.92,218.1 550.43,204.62 552.24,194.56 554.06,192.34 555.67,182.28 557.18,181.18 559,189.02 560.81,185.7 562.33,178.96 563.94,191.24 565.25,204.62 566.86,191.24 568.38,209.14 570.19,218.1 572.01,225.94 574.22,238.21 576.44,253.81 579.16,269.5 581.89,282.88 584.71,291.83 588.14,298.57 592.57,301.89 597.11,303" fill="none" stroke="#e4404b" stroke-width="0.9" stroke-linejoin="round"/>
</g>
<rect x="497.8" y="168.4" width="134.7" height="134.6" fill="none" stroke="#111" stroke-width="1.5"/>
<path d="M497.8 167.7V303.7" stroke="#0c2433" stroke-width="1.9"/>
<path d="M497.1 303H633.2" stroke="#0a0a0a" stroke-width="1.8"/>
<path d="M497.8 303V306.2M507.94 303V304.8M513.87 303V304.8M518.07 303V304.8M521.34 303V304.8M524 303V304.8M526.26 303V304.8M528.21 303V304.8M529.93 303V304.8M531.48 303V306.2M541.61 303V304.8M547.54 303V304.8M551.75 303V304.8M555.01 303V304.8M557.68 303V304.8M559.93 303V304.8M561.89 303V304.8M563.61 303V304.8M565.15 303V306.2M575.29 303V304.8M581.22 303V304.8M585.42 303V304.8M588.69 303V304.8M591.35 303V304.8M593.61 303V304.8M595.56 303V304.8M597.28 303V304.8M598.83 303V306.2M608.96 303V304.8M614.89 303V304.8M619.1 303V304.8M622.36 303V304.8M625.03 303V304.8M627.28 303V304.8M629.24 303V304.8M630.96 303V304.8M632.5 303V306.2M497.8 303H494.6M497.8 297.39H496.2M497.8 291.77H496.2M497.8 286.16H496.2M497.8 280.55H496.2M497.8 274.93H494.6M497.8 269.32H496.2M497.8 263.71H496.2M497.8 258.09H496.2M497.8 252.48H496.2M497.8 246.87H494.6M497.8 241.25H496.2M497.8 235.64H496.2M497.8 230.03H496.2M497.8 224.41H496.2M497.8 218.8H494.6M497.8 213.19H496.2M497.8 207.57H496.2M497.8 201.96H496.2M497.8 196.35H496.2M497.8 190.73H494.6M497.8 185.12H496.2M497.8 179.51H496.2M497.8 173.89H496.2M497.8 168.28H496.2" stroke="#111" stroke-width="0.9" fill="none"/>
<path d="M540.35 273.93L632.5 273.93 M540.35 268.93V278.93 M632.5 268.93V278.93" stroke="#1a1a1a" stroke-width="1.3" fill="none"/>
<text x="614.6" y="194.9" font-size="14" text-anchor="end" fill="#111">80%</text>
<g clip-path="url(#pc9)">
<g fill="#8be6fb"><polygon points="78,444.1 78,428.02 78.3,428.02 80.01,421.38 82.22,401.28 84.43,381.17 86.74,363.28 88.95,345.38 90.46,334.23 91.86,325.28 93.37,330.91 94.98,324.17 96.78,336.44 98.99,349.91 101.2,357.65 103.41,365.49 105.22,380.07 106.83,374.44 108.34,371.12 110.55,367.7 112.35,376.65 114.56,387.81 116.87,396.75 118.58,407.91 120.19,419.17 121.8,426.91 123.5,432.54 125.81,436.96 129.13,440.98 134.65,444.1 134.65,444.1"/></g>
<polygon points="101.2,444.1 101.2,444.1 105.72,442.59 110.14,440.38 114.56,436.96 119.08,432.04 123.1,426.91 125.81,422.49 129.13,419.17 132.44,412.43 135.16,406.81 138.07,399.06 140.98,392.33 143.59,386.7 147.01,380.07 149.22,376.65 151.43,371.12 153.64,368.91 155.95,366.59 158.16,367.7 160.37,366.59 162.58,367.7 164.79,366.19 167.1,371.12 169.31,374.44 172.62,382.28 174.83,390.12 177.14,396.75 179.35,405.7 181.56,410.22 183.77,416.86 187.19,426.91 190.5,434.75 193.82,439.68 198.34,442.59 203.86,444.1 203.86,444.1" fill="#fd979a"/>
<g fill="#86a9c3" clip-path="url(#rc9)"><polygon points="78,444.1 78,428.02 78.3,428.02 80.01,421.38 82.22,401.28 84.43,381.17 86.74,363.28 88.95,345.38 90.46,334.23 91.86,325.28 93.37,330.91 94.98,324.17 96.78,336.44 98.99,349.91 101.2,357.65 103.41,365.49 105.22,380.07 106.83,374.44 108.34,371.12 110.55,367.7 112.35,376.65 114.56,387.81 116.87,396.75 118.58,407.91 120.19,419.17 121.8,426.91 123.5,432.54 125.81,436.96 129.13,440.98 134.65,444.1 134.65,444.1"/></g>
<polyline points="78.3,428.02 80.01,421.38 82.22,401.28 84.43,381.17 86.74,363.28 88.95,345.38 90.46,334.23 91.86,325.28 93.37,330.91 94.98,324.17 96.78,336.44 98.99,349.91 101.2,357.65 103.41,365.49 105.22,380.07 106.83,374.44 108.34,371.12 110.55,367.7 112.35,376.65 114.56,387.81 116.87,396.75 118.58,407.91 120.19,419.17 121.8,426.91 123.5,432.54 125.81,436.96 129.13,440.98 134.65,444.1" fill="none" stroke="#34b4e4" stroke-width="0.9" stroke-linejoin="round"/>
<polyline points="101.2,444.1 105.72,442.59 110.14,440.38 114.56,436.96 119.08,432.04 123.1,426.91 125.81,422.49 129.13,419.17 132.44,412.43 135.16,406.81 138.07,399.06 140.98,392.33 143.59,386.7 147.01,380.07 149.22,376.65 151.43,371.12 153.64,368.91 155.95,366.59 158.16,367.7 160.37,366.59 162.58,367.7 164.79,366.19 167.1,371.12 169.31,374.44 172.62,382.28 174.83,390.12 177.14,396.75 179.35,405.7 181.56,410.22 183.77,416.86 187.19,426.91 190.5,434.75 193.82,439.68 198.34,442.59 203.86,444.1" fill="none" stroke="#e4404b" stroke-width="0.9" stroke-linejoin="round"/>
</g>
<rect x="78" y="310.2" width="134.4" height="133.9" fill="none" stroke="#111" stroke-width="1.5"/>
<path d="M78 309.5V444.8" stroke="#0c2433" stroke-width="1.9"/>
<path d="M77.3 444.1H213.1" stroke="#0a0a0a" stroke-width="1.8"/>
<path d="M78 444.1V447.3M88.11 444.1V445.9M94.03 444.1V445.9M98.23 444.1V445.9M101.49 444.1V445.9M104.15 444.1V445.9M106.4 444.1V445.9M108.34 444.1V445.9M110.06 444.1V445.9M111.6 444.1V447.3M121.71 444.1V445.9M127.63 444.1V445.9M131.83 444.1V445.9M135.09 444.1V445.9M137.75 444.1V445.9M140 444.1V445.9M141.94 444.1V445.9M143.66 444.1V445.9M145.2 444.1V447.3M155.31 444.1V445.9M161.23 444.1V445.9M165.43 444.1V445.9M168.69 444.1V445.9M171.35 444.1V445.9M173.6 444.1V445.9M175.54 444.1V445.9M177.26 444.1V445.9M178.8 444.1V447.3M188.91 444.1V445.9M194.83 444.1V445.9M199.03 444.1V445.9M202.29 444.1V445.9M204.95 444.1V445.9M207.2 444.1V445.9M209.14 444.1V445.9M210.86 444.1V445.9M212.4 444.1V447.3M78 444.1H74.8M78 437.81H76.4M78 431.51H76.4M78 425.22H76.4M78 418.93H76.4M78 412.64H74.8M78 406.34H76.4M78 400.05H76.4M78 393.76H76.4M78 387.46H76.4M78 381.17H74.8M78 374.88H76.4M78 368.59H76.4M78 362.29H76.4M78 356H76.4M78 349.71H74.8M78 343.41H76.4M78 337.12H76.4M78 330.83H76.4M78 324.53H76.4M78 318.24H74.8M78 311.95H76.4" stroke="#111" stroke-width="0.9" fill="none"/>
<path d="M138.67 414.65L212.4 414.65 M138.67 409.65V419.65 M212.4 409.65V419.65" stroke="#1a1a1a" stroke-width="1.3" fill="none"/>
<text x="203.5" y="336.3" font-size="14" text-anchor="end" fill="#111">100%</text>
<text x="72" y="444.75" font-size="6.3" text-anchor="end" fill="#333">0</text>
<text x="72" y="417.49" font-size="6.3" text-anchor="end" fill="#333">50</text>
<text x="72" y="386.02" font-size="6.3" text-anchor="end" fill="#333">100</text>
<text x="72" y="354.56" font-size="6.3" text-anchor="end" fill="#333">150</text>
<text x="72" y="323.09" font-size="6.3" text-anchor="end" fill="#333">200</text>
<text transform="translate(57.6 376.8) rotate(-90)" font-size="6.5" text-anchor="middle" fill="#222">Count</text>
<text transform="translate(41 370.5) rotate(-90)" font-size="17.5" text-anchor="middle" fill="#000">SSEA4</text>
<g clip-path="url(#pc10)">
<g fill="#8be6fb"><polygon points="218.4,444.9 218.4,426.23 218.9,426.23 220.71,422.9 222.92,410.59 225.13,392.63 227.34,370.23 229.65,347.73 231.16,334.31 232.76,330.98 234.07,329.87 235.18,326.44 236.28,330.98 237.89,343.29 239.39,356.71 241.2,372.45 243.41,392.63 245.72,408.27 247.93,421.79 250.14,430.77 253.46,437.43 256.87,441.97 260.19,444.9 260.19,444.9"/></g>
<polygon points="261.29,444.9 261.29,444.9 265.81,441.97 270.23,439.25 274.65,436.32 278.07,432.99 280.28,428.45 282.49,426.23 284.7,421.79 287.01,417.25 289.22,410.59 291.43,407.16 293.64,403.83 295.95,400.5 298.16,397.07 300.37,395.96 302.58,394.85 304.79,393.74 307.1,394.85 308.2,393.74 310.01,398.18 312.22,401.61 314.83,406.05 317.54,410.59 320.46,416.14 323.77,424.01 327.19,430.77 330.5,436.32 333.82,440.16 337.23,443.08 341.65,444.9 341.65,444.9" fill="#fd979a"/>
<g fill="#86a9c3" clip-path="url(#rc10)"><polygon points="218.4,444.9 218.4,426.23 218.9,426.23 220.71,422.9 222.92,410.59 225.13,392.63 227.34,370.23 229.65,347.73 231.16,334.31 232.76,330.98 234.07,329.87 235.18,326.44 236.28,330.98 237.89,343.29 239.39,356.71 241.2,372.45 243.41,392.63 245.72,408.27 247.93,421.79 250.14,430.77 253.46,437.43 256.87,441.97 260.19,444.9 260.19,444.9"/></g>
<polyline points="218.9,426.23 220.71,422.9 222.92,410.59 225.13,392.63 227.34,370.23 229.65,347.73 231.16,334.31 232.76,330.98 234.07,329.87 235.18,326.44 236.28,330.98 237.89,343.29 239.39,356.71 241.2,372.45 243.41,392.63 245.72,408.27 247.93,421.79 250.14,430.77 253.46,437.43 256.87,441.97 260.19,444.9" fill="none" stroke="#34b4e4" stroke-width="0.9" stroke-linejoin="round"/>
<polyline points="261.29,444.9 265.81,441.97 270.23,439.25 274.65,436.32 278.07,432.99 280.28,428.45 282.49,426.23 284.7,421.79 287.01,417.25 289.22,410.59 291.43,407.16 293.64,403.83 295.95,400.5 298.16,397.07 300.37,395.96 302.58,394.85 304.79,393.74 307.1,394.85 308.2,393.74 310.01,398.18 312.22,401.61 314.83,406.05 317.54,410.59 320.46,416.14 323.77,424.01 327.19,430.77 330.5,436.32 333.82,440.16 337.23,443.08 341.65,444.9" fill="none" stroke="#e4404b" stroke-width="0.9" stroke-linejoin="round"/>
</g>
<rect x="218.4" y="310.8" width="134" height="134.1" fill="none" stroke="#111" stroke-width="1.5"/>
<path d="M218.4 310.1V445.6" stroke="#0c2433" stroke-width="1.9"/>
<path d="M217.7 444.9H353.1" stroke="#0a0a0a" stroke-width="1.8"/>
<path d="M218.4 444.9V448.1M228.48 444.9V446.7M234.38 444.9V446.7M238.57 444.9V446.7M241.82 444.9V446.7M244.47 444.9V446.7M246.71 444.9V446.7M248.65 444.9V446.7M250.37 444.9V446.7M251.9 444.9V448.1M261.98 444.9V446.7M267.88 444.9V446.7M272.07 444.9V446.7M275.32 444.9V446.7M277.97 444.9V446.7M280.21 444.9V446.7M282.15 444.9V446.7M283.87 444.9V446.7M285.4 444.9V448.1M295.48 444.9V446.7M301.38 444.9V446.7M305.57 444.9V446.7M308.82 444.9V446.7M311.47 444.9V446.7M313.71 444.9V446.7M315.65 444.9V446.7M317.37 444.9V446.7M318.9 444.9V448.1M328.98 444.9V446.7M334.88 444.9V446.7M339.07 444.9V446.7M342.32 444.9V446.7M344.97 444.9V446.7M347.21 444.9V446.7M349.15 444.9V446.7M350.87 444.9V446.7M352.4 444.9V448.1M218.4 444.9H215.2M218.4 440H216.8M218.4 435.09H216.8M218.4 430.19H216.8M218.4 425.28H216.8M218.4 420.38H215.2M218.4 415.48H216.8M218.4 410.57H216.8M218.4 405.67H216.8M218.4 400.77H216.8M218.4 395.86H215.2M218.4 390.96H216.8M218.4 386.05H216.8M218.4 381.15H216.8M218.4 376.25H216.8M218.4 371.34H215.2M218.4 366.44H216.8M218.4 361.53H216.8M218.4 356.63H216.8M218.4 351.73H216.8M218.4 346.82H215.2M218.4 341.92H216.8M218.4 337.01H216.8M218.4 332.11H216.8M218.4 327.21H216.8M218.4 322.3H215.2M218.4 317.4H216.8M218.4 312.5H216.8" stroke="#111" stroke-width="0.9" fill="none"/>
<path d="M269.13 413.52L352.4 413.52 M269.13 408.52V418.52 M352.4 408.52V418.52" stroke="#1a1a1a" stroke-width="1.3" fill="none"/>
<text x="343.9" y="336.8" font-size="14" text-anchor="end" fill="#111">100%</text>
<g clip-path="url(#pc11)">
<g fill="#8be6fb"><polygon points="358.4,445 358.4,374.53 358.9,374.53 360.72,363.35 361.62,347.65 362.93,329.83 364.44,325.29 365.65,324.19 366.76,327.51 368.27,334.26 370.08,336.47 371.19,347.65 372.29,365.57 374.11,387.92 375.72,405.84 377.23,421.54 379.04,432.72 381.25,439.46 383.47,442.79 386.89,445 386.89,445"/></g>
<polygon points="358.4,445 358.4,444.3 358.9,444.3 367.86,443.49 379.04,442.79 388,442.08 394.64,441.17 400.28,439.87 404.71,438.25 409.24,436.74 412.16,435.44 414.78,437.15 418.2,434.93 421.52,432.21 423.74,431.61 427.16,429.4 430.48,425.97 433.81,424.86 436.12,421.54 439.44,417.01 442.16,410.37 444.38,403.62 446.59,396.88 448.81,390.23 451.02,381.27 452.83,376.74 454.64,372.31 456.26,376.74 457.77,368.99 459.58,366.67 461.39,367.78 462.5,363.35 464.01,365.57 465.82,368.99 468.03,376.74 470.35,387.92 472.57,396.88 474.78,410.37 476.99,423.76 479.71,432.72 483.04,438.25 486.86,442.08 492,444.3 492,445" fill="#fd979a"/>
<g fill="#86a9c3" clip-path="url(#rc11)"><polygon points="358.4,445 358.4,374.53 358.9,374.53 360.72,363.35 361.62,347.65 362.93,329.83 364.44,325.29 365.65,324.19 366.76,327.51 368.27,334.26 370.08,336.47 371.19,347.65 372.29,365.57 374.11,387.92 375.72,405.84 377.23,421.54 379.04,432.72 381.25,439.46 383.47,442.79 386.89,445 386.89,445"/></g>
<polyline points="358.9,374.53 360.72,363.35 361.62,347.65 362.93,329.83 364.44,325.29 365.65,324.19 366.76,327.51 368.27,334.26 370.08,336.47 371.19,347.65 372.29,365.57 374.11,387.92 375.72,405.84 377.23,421.54 379.04,432.72 381.25,439.46 383.47,442.79 386.89,445" fill="none" stroke="#34b4e4" stroke-width="0.9" stroke-linejoin="round"/>
<polyline points="358.9,444.3 367.86,443.49 379.04,442.79 388,442.08 394.64,441.17 400.28,439.87 404.71,438.25 409.24,436.74 412.16,435.44 414.78,437.15 418.2,434.93 421.52,432.21 423.74,431.61 427.16,429.4 430.48,425.97 433.81,424.86 436.12,421.54 439.44,417.01 442.16,410.37 444.38,403.62 446.59,396.88 448.81,390.23 451.02,381.27 452.83,376.74 454.64,372.31 456.26,376.74 457.77,368.99 459.58,366.67 461.39,367.78 462.5,363.35 464.01,365.57 465.82,368.99 468.03,376.74 470.35,387.92 472.57,396.88 474.78,410.37 476.99,423.76 479.71,432.72 483.04,438.25 486.86,442.08 492,444.3" fill="none" stroke="#e4404b" stroke-width="0.9" stroke-linejoin="round"/>
</g>
<rect x="358.4" y="311.2" width="134.3" height="133.8" fill="none" stroke="#111" stroke-width="1.5"/>
<path d="M358.4 310.5V445.7" stroke="#0c2433" stroke-width="1.9"/>
<path d="M357.7 445H493.4" stroke="#0a0a0a" stroke-width="1.8"/>
<path d="M358.4 445V448.2M368.51 445V446.8M374.42 445V446.8M378.61 445V446.8M381.87 445V446.8M384.53 445V446.8M386.77 445V446.8M388.72 445V446.8M390.44 445V446.8M391.97 445V448.2M402.08 445V446.8M407.99 445V446.8M412.19 445V446.8M415.44 445V446.8M418.1 445V446.8M420.35 445V446.8M422.3 445V446.8M424.01 445V446.8M425.55 445V448.2M435.66 445V446.8M441.57 445V446.8M445.76 445V446.8M449.02 445V446.8M451.68 445V446.8M453.92 445V446.8M455.87 445V446.8M457.59 445V446.8M459.12 445V448.2M469.23 445V446.8M475.14 445V446.8M479.34 445V446.8M482.59 445V446.8M485.25 445V446.8M487.5 445V446.8M489.45 445V446.8M491.16 445V446.8M492.7 445V448.2M358.4 445H355.2M358.4 440.53H356.8M358.4 436.06H356.8M358.4 431.59H356.8M358.4 427.12H356.8M358.4 422.65H355.2M358.4 418.18H356.8M358.4 413.71H356.8M358.4 409.24H356.8M358.4 404.77H356.8M358.4 400.3H355.2M358.4 395.83H356.8M358.4 391.36H356.8M358.4 386.89H356.8M358.4 382.42H356.8M358.4 377.95H355.2M358.4 373.48H356.8M358.4 369.01H356.8M358.4 364.54H356.8M358.4 360.07H356.8M358.4 355.6H355.2M358.4 351.13H356.8M358.4 346.66H356.8M358.4 342.19H356.8M358.4 337.72H356.8M358.4 333.25H355.2M358.4 328.78H356.8M358.4 324.31H356.8M358.4 319.84H356.8M358.4 315.37H356.8M358.4 310.9H355.2" stroke="#111" stroke-width="0.9" fill="none"/>
<path d="M395.85 413.29L492.7 413.29 M395.85 408.29V418.29 M492.7 408.29V418.29" stroke="#1a1a1a" stroke-width="1.3" fill="none"/>
<text x="485" y="336.8" font-size="14" text-anchor="end" fill="#111">100%</text>
<g clip-path="url(#pc12)">
<g fill="#8be6fb"><polygon points="498.4,446.4 498.4,374.66 498.9,374.66 500.71,363.46 502.22,347.72 503.83,329.86 505.64,325.32 507.35,326.43 508.96,324.21 510.47,332.08 512.28,343.28 514.09,359.02 515.7,376.88 517.21,392.62 519.42,401.6 521.24,410.58 523.45,419.56 525.76,428.44 528.38,435.2 531.3,440.14 534.62,443.78 539.14,446.4 539.14,446.4"/></g>
<polygon points="542.46,446.4 542.46,446.4 548.1,445.49 553.63,443.78 558.16,440.85 561.47,438.13 564.79,436.31 568.21,432.48 570.83,428.44 573.75,424 576.67,419.56 578.88,415.02 581.19,410.58 583.41,408.26 584.91,402.71 586.52,401.6 588.33,397.06 590.15,391.51 591.65,386.97 593.26,383.64 594.97,374.66 597.29,370.22 598.8,366.79 600.21,365.28 601.71,370.22 603.32,365.68 605.03,372.44 607.35,379.2 609.56,385.86 611.77,397.06 613.99,408.26 616.3,421.78 618.51,430.76 621.83,438.53 625.15,443.07 629.68,446.4 629.68,446.4" fill="#fd979a"/>
<g fill="#86a9c3" clip-path="url(#rc12)"><polygon points="498.4,446.4 498.4,374.66 498.9,374.66 500.71,363.46 502.22,347.72 503.83,329.86 505.64,325.32 507.35,326.43 508.96,324.21 510.47,332.08 512.28,343.28 514.09,359.02 515.7,376.88 517.21,392.62 519.42,401.6 521.24,410.58 523.45,419.56 525.76,428.44 528.38,435.2 531.3,440.14 534.62,443.78 539.14,446.4 539.14,446.4"/></g>
<polyline points="498.9,374.66 500.71,363.46 502.22,347.72 503.83,329.86 505.64,325.32 507.35,326.43 508.96,324.21 510.47,332.08 512.28,343.28 514.09,359.02 515.7,376.88 517.21,392.62 519.42,401.6 521.24,410.58 523.45,419.56 525.76,428.44 528.38,435.2 531.3,440.14 534.62,443.78 539.14,446.4" fill="none" stroke="#34b4e4" stroke-width="0.9" stroke-linejoin="round"/>
<polyline points="542.46,446.4 548.1,445.49 553.63,443.78 558.16,440.85 561.47,438.13 564.79,436.31 568.21,432.48 570.83,428.44 573.75,424 576.67,419.56 578.88,415.02 581.19,410.58 583.41,408.26 584.91,402.71 586.52,401.6 588.33,397.06 590.15,391.51 591.65,386.97 593.26,383.64 594.97,374.66 597.29,370.22 598.8,366.79 600.21,365.28 601.71,370.22 603.32,365.68 605.03,372.44 607.35,379.2 609.56,385.86 611.77,397.06 613.99,408.26 616.3,421.78 618.51,430.76 621.83,438.53 625.15,443.07 629.68,446.4" fill="none" stroke="#e4404b" stroke-width="0.9" stroke-linejoin="round"/>
</g>
<rect x="498.4" y="311.4" width="134.6" height="135" fill="none" stroke="#111" stroke-width="1.5"/>
<path d="M498.4 310.7V447.1" stroke="#0c2433" stroke-width="1.9"/>
<path d="M497.7 446.4H633.7" stroke="#0a0a0a" stroke-width="1.8"/>
<path d="M498.4 446.4V449.6M508.53 446.4V448.2M514.46 446.4V448.2M518.66 446.4V448.2M521.92 446.4V448.2M524.58 446.4V448.2M526.84 446.4V448.2M528.79 446.4V448.2M530.51 446.4V448.2M532.05 446.4V449.6M542.18 446.4V448.2M548.11 446.4V448.2M552.31 446.4V448.2M555.57 446.4V448.2M558.23 446.4V448.2M560.49 446.4V448.2M562.44 446.4V448.2M564.16 446.4V448.2M565.7 446.4V449.6M575.83 446.4V448.2M581.76 446.4V448.2M585.96 446.4V448.2M589.22 446.4V448.2M591.88 446.4V448.2M594.14 446.4V448.2M596.09 446.4V448.2M597.81 446.4V448.2M599.35 446.4V449.6M609.48 446.4V448.2M615.41 446.4V448.2M619.61 446.4V448.2M622.87 446.4V448.2M625.53 446.4V448.2M627.79 446.4V448.2M629.74 446.4V448.2M631.46 446.4V448.2M633 446.4V449.6M498.4 446.4H495.2M498.4 441.25H496.8M498.4 436.11H496.8M498.4 430.96H496.8M498.4 425.82H496.8M498.4 420.67H495.2M498.4 415.53H496.8M498.4 410.38H496.8M498.4 405.23H496.8M498.4 400.09H496.8M498.4 394.94H495.2M498.4 389.8H496.8M498.4 384.65H496.8M498.4 379.51H496.8M498.4 374.36H496.8M498.4 369.21H495.2M498.4 364.07H496.8M498.4 358.92H496.8M498.4 353.78H496.8M498.4 348.63H496.8M498.4 343.49H495.2M498.4 338.34H496.8M498.4 333.19H496.8M498.4 328.05H496.8M498.4 322.9H496.8M498.4 317.76H495.2M498.4 312.61H496.8" stroke="#111" stroke-width="0.9" fill="none"/>
<path d="M532 413.91L633 413.91 M532 408.91V418.91 M633 408.91V418.91" stroke="#1a1a1a" stroke-width="1.3" fill="none"/>
<text x="622.4" y="336.8" font-size="14" text-anchor="end" fill="#111">100%</text>
<g clip-path="url(#pc13)">
<g fill="#8be6fb"><polygon points="76.9,587.3 76.9,563.05 78.2,563.05 80,543 82.2,518.45 84.4,498.4 86.7,485.07 88.9,471.74 90,468.33 91.1,472.84 92.7,467.23 94,473.95 95.6,478.36 97.8,487.28 100,496.2 102.2,509.53 103.8,520.75 105.6,518.45 107.8,511.83 109.6,508.42 111.1,518.45 113.3,534.08 115.6,547.41 117.8,558.54 120,566.35 123.3,574.17 126.7,579.68 131.1,583.49 136.7,585.3 145.6,586.4 145.6,587.3"/></g>
<polygon points="76.9,587.3 76.9,565.25 78.2,565.25 80,545.21 82.2,518.45 84.4,498.4 87.8,478.36 90,471.74 92.2,472.84 94.4,475.05 96.7,477.25 98.9,487.28 101.1,496.2 103.3,504.01 105.1,511.83 106.7,514.04 108.2,509.53 110,508.42 111.8,518.45 114,534.08 116.7,549.62 119.3,563.05 122.2,570.86 125.6,577.48 128.9,581.99 133.3,584.89 141.1,586 150,586.4 150,587.3" fill="#fd979a"/>
<g fill="#86a9c3" clip-path="url(#rc13)"><polygon points="76.9,587.3 76.9,563.05 78.2,563.05 80,543 82.2,518.45 84.4,498.4 86.7,485.07 88.9,471.74 90,468.33 91.1,472.84 92.7,467.23 94,473.95 95.6,478.36 97.8,487.28 100,496.2 102.2,509.53 103.8,520.75 105.6,518.45 107.8,511.83 109.6,508.42 111.1,518.45 113.3,534.08 115.6,547.41 117.8,558.54 120,566.35 123.3,574.17 126.7,579.68 131.1,583.49 136.7,585.3 145.6,586.4 145.6,587.3"/></g>
<polyline points="78.2,563.05 80,543 82.2,518.45 84.4,498.4 86.7,485.07 88.9,471.74 90,468.33 91.1,472.84 92.7,467.23 94,473.95 95.6,478.36 97.8,487.28 100,496.2 102.2,509.53 103.8,520.75 105.6,518.45 107.8,511.83 109.6,508.42 111.1,518.45 113.3,534.08 115.6,547.41 117.8,558.54 120,566.35 123.3,574.17 126.7,579.68 131.1,583.49 136.7,585.3 145.6,586.4" fill="none" stroke="#34b4e4" stroke-width="0.9" stroke-linejoin="round"/>
<polyline points="78.2,565.25 80,545.21 82.2,518.45 84.4,498.4 87.8,478.36 90,471.74 92.2,472.84 94.4,475.05 96.7,477.25 98.9,487.28 101.1,496.2 103.3,504.01 105.1,511.83 106.7,514.04 108.2,509.53 110,508.42 111.8,518.45 114,534.08 116.7,549.62 119.3,563.05 122.2,570.86 125.6,577.48 128.9,581.99 133.3,584.89 141.1,586 150,586.4" fill="none" stroke="#e4404b" stroke-width="0.9" stroke-linejoin="round"/>
</g>
<rect x="76.9" y="452.9" width="134.7" height="134.4" fill="none" stroke="#111" stroke-width="1.5"/>
<path d="M76.9 452.2V588" stroke="#0c2433" stroke-width="1.9"/>
<path d="M76.2 587.3H212.3" stroke="#0a0a0a" stroke-width="1.8"/>
<path d="M76.9 587.3V590.5M87.04 587.3V589.1M92.97 587.3V589.1M97.17 587.3V589.1M100.44 587.3V589.1M103.1 587.3V589.1M105.36 587.3V589.1M107.31 587.3V589.1M109.03 587.3V589.1M110.58 587.3V590.5M120.71 587.3V589.1M126.64 587.3V589.1M130.85 587.3V589.1M134.11 587.3V589.1M136.78 587.3V589.1M139.03 587.3V589.1M140.99 587.3V589.1M142.71 587.3V589.1M144.25 587.3V590.5M154.39 587.3V589.1M160.32 587.3V589.1M164.52 587.3V589.1M167.79 587.3V589.1M170.45 587.3V589.1M172.71 587.3V589.1M174.66 587.3V589.1M176.38 587.3V589.1M177.93 587.3V590.5M188.06 587.3V589.1M193.99 587.3V589.1M198.2 587.3V589.1M201.46 587.3V589.1M204.13 587.3V589.1M206.38 587.3V589.1M208.34 587.3V589.1M210.06 587.3V589.1M211.6 587.3V590.5M76.9 587.3H73.7M76.9 580.97H75.3M76.9 574.63H75.3M76.9 568.3H75.3M76.9 561.96H75.3M76.9 555.63H73.7M76.9 549.3H75.3M76.9 542.96H75.3M76.9 536.63H75.3M76.9 530.29H75.3M76.9 523.96H73.7M76.9 517.62H75.3M76.9 511.29H75.3M76.9 504.96H75.3M76.9 498.62H75.3M76.9 492.29H73.7M76.9 485.95H75.3M76.9 479.62H75.3M76.9 473.29H75.3M76.9 466.95H75.3M76.9 460.62H73.7M76.9 454.28H75.3" stroke="#111" stroke-width="0.9" fill="none"/>
<path d="M145.1 563.05L211.6 563.05 M145.1 558.05V568.05 M211.6 558.05V568.05" stroke="#1a1a1a" stroke-width="1.3" fill="none"/>
<text x="200.6" y="476.1" font-size="14" text-anchor="end" fill="#111">0%</text>
<text x="70.6" y="587.95" font-size="6.3" text-anchor="end" fill="#333">0</text>
<text x="70.6" y="560.48" font-size="6.3" text-anchor="end" fill="#333">50</text>
<text x="70.6" y="528.81" font-size="6.3" text-anchor="end" fill="#333">100</text>
<text x="70.6" y="497.14" font-size="6.3" text-anchor="end" fill="#333">150</text>
<text x="70.6" y="465.47" font-size="6.3" text-anchor="end" fill="#333">200</text>
<text transform="translate(57.6 519.9) rotate(-90)" font-size="6.5" text-anchor="middle" fill="#222">Count</text>
<text transform="translate(41 509.5) rotate(-90)" font-size="17.5" text-anchor="middle" fill="#000">TRA-1-60</text>
<g clip-path="url(#pc14)">
<g fill="#8be6fb"><polygon points="217.4,587.9 217.4,565.92 218,565.92 218.9,572.68 220.31,573.78 221.81,561.48 223.42,543.54 225.22,523.37 226.93,503.2 228.53,487.48 230.04,478.5 231.84,475.17 232.95,476.28 234.05,470.74 235.25,478.5 236.76,489.69 238.56,505.42 240.37,518.83 241.87,532.34 243.48,543.54 245.28,554.73 247.49,565.92 249.7,572.68 252.4,578.22 255.31,581.65 258.62,583.87 263.04,586.09 269.76,587.9 269.76,587.9"/></g>
<polygon points="217.4,587.9 217.4,566.93 218,566.93 218.9,573.48 220.31,574.49 221.81,562.89 223.42,545.75 225.22,525.59 226.93,505.42 228.53,490.3 230.04,481.22 231.84,478.2 232.95,477.7 234.05,479.21 235.25,481.22 236.76,490.3 238.56,505.42 240.37,518.83 241.87,532.34 243.48,543.54 245.28,554.73 247.49,565.92 249.7,573.48 252.4,579.03 255.31,582.56 258.62,584.57 263.04,586.59 271.76,587.9 271.76,587.9" fill="#fd979a"/>
<g fill="#86a9c3" clip-path="url(#rc14)"><polygon points="217.4,587.9 217.4,565.92 218,565.92 218.9,572.68 220.31,573.78 221.81,561.48 223.42,543.54 225.22,523.37 226.93,503.2 228.53,487.48 230.04,478.5 231.84,475.17 232.95,476.28 234.05,470.74 235.25,478.5 236.76,489.69 238.56,505.42 240.37,518.83 241.87,532.34 243.48,543.54 245.28,554.73 247.49,565.92 249.7,572.68 252.4,578.22 255.31,581.65 258.62,583.87 263.04,586.09 269.76,587.9 269.76,587.9"/></g>
<polyline points="218,565.92 218.9,572.68 220.31,573.78 221.81,561.48 223.42,543.54 225.22,523.37 226.93,503.2 228.53,487.48 230.04,478.5 231.84,475.17 232.95,476.28 234.05,470.74 235.25,478.5 236.76,489.69 238.56,505.42 240.37,518.83 241.87,532.34 243.48,543.54 245.28,554.73 247.49,565.92 249.7,572.68 252.4,578.22 255.31,581.65 258.62,583.87 263.04,586.09 269.76,587.9" fill="none" stroke="#34b4e4" stroke-width="0.9" stroke-linejoin="round"/>
<polyline points="218,566.93 218.9,573.48 220.31,574.49 221.81,562.89 223.42,545.75 225.22,525.59 226.93,505.42 228.53,490.3 230.04,481.22 231.84,478.2 232.95,477.7 234.05,479.21 235.25,481.22 236.76,490.3 238.56,505.42 240.37,518.83 241.87,532.34 243.48,543.54 245.28,554.73 247.49,565.92 249.7,573.48 252.4,579.03 255.31,582.56 258.62,584.57 263.04,586.59 271.76,587.9" fill="none" stroke="#e4404b" stroke-width="0.9" stroke-linejoin="round"/>
</g>
<rect x="217.4" y="453.9" width="134.2" height="134" fill="none" stroke="#111" stroke-width="1.5"/>
<path d="M217.4 453.2V588.6" stroke="#0c2433" stroke-width="1.9"/>
<path d="M216.7 587.9H352.3" stroke="#0a0a0a" stroke-width="1.8"/>
<path d="M217.4 587.9V591.1M227.5 587.9V589.7M233.41 587.9V589.7M237.6 587.9V589.7M240.85 587.9V589.7M243.51 587.9V589.7M245.75 587.9V589.7M247.7 587.9V589.7M249.41 587.9V589.7M250.95 587.9V591.1M261.05 587.9V589.7M266.96 587.9V589.7M271.15 587.9V589.7M274.4 587.9V589.7M277.06 587.9V589.7M279.3 587.9V589.7M281.25 587.9V589.7M282.96 587.9V589.7M284.5 587.9V591.1M294.6 587.9V589.7M300.51 587.9V589.7M304.7 587.9V589.7M307.95 587.9V589.7M310.61 587.9V589.7M312.85 587.9V589.7M314.8 587.9V589.7M316.51 587.9V589.7M318.05 587.9V591.1M328.15 587.9V589.7M334.06 587.9V589.7M338.25 587.9V589.7M341.5 587.9V589.7M344.16 587.9V589.7M346.4 587.9V589.7M348.35 587.9V589.7M350.06 587.9V589.7M351.6 587.9V591.1M217.4 587.9H214.2M217.4 582.98H215.8M217.4 578.06H215.8M217.4 573.14H215.8M217.4 568.22H215.8M217.4 563.3H214.2M217.4 558.38H215.8M217.4 553.46H215.8M217.4 548.54H215.8M217.4 543.62H215.8M217.4 538.7H214.2M217.4 533.78H215.8M217.4 528.86H215.8M217.4 523.93H215.8M217.4 519.01H215.8M217.4 514.09H214.2M217.4 509.17H215.8M217.4 504.25H215.8M217.4 499.33H215.8M217.4 494.41H215.8M217.4 489.49H214.2M217.4 484.57H215.8M217.4 479.65H215.8M217.4 474.73H215.8M217.4 469.81H215.8M217.4 464.89H214.2M217.4 459.97H215.8M217.4 455.05H215.8" stroke="#111" stroke-width="0.9" fill="none"/>
<path d="M277.58 562.59L351.6 562.59 M277.58 557.59V567.59 M351.6 557.59V567.59" stroke="#1a1a1a" stroke-width="1.3" fill="none"/>
<text x="341.3" y="476.1" font-size="14" text-anchor="end" fill="#111">0%</text>
<g clip-path="url(#pc15)">
<g fill="#8be6fb"><polygon points="357.4,588.8 357.4,519.07 358,519.07 358.91,507.84 360.32,494.38 361.83,474.14 363.44,468.47 364.75,469.58 365.66,476.36 366.96,478.59 368.57,483.14 370.08,494.38 371.49,512.39 373,534.86 374.62,552.87 376.43,566.33 378.14,576.45 380.45,584.35 383.07,588.8 383.07,588.8"/></g>
<polygon points="357.4,588.8 357.4,532.63 358,532.63 359.61,516.84 361.83,496.6 363.44,485.37 365.25,474.14 366.36,471.91 367.87,478.59 369.28,479.7 370.79,489.82 372.4,507.84 374.11,525.85 375.92,543.87 377.53,557.33 379.04,568.56 380.86,575.34 383.07,579.79 385.39,582.53 388,583.23 390.92,583.84 393.14,585.46 396.56,586.57 400.99,587.69 407.74,588.8 407.74,588.8" fill="#fd979a"/>
<g fill="#86a9c3" clip-path="url(#rc15)"><polygon points="357.4,588.8 357.4,519.07 358,519.07 358.91,507.84 360.32,494.38 361.83,474.14 363.44,468.47 364.75,469.58 365.66,476.36 366.96,478.59 368.57,483.14 370.08,494.38 371.49,512.39 373,534.86 374.62,552.87 376.43,566.33 378.14,576.45 380.45,584.35 383.07,588.8 383.07,588.8"/></g>
<polyline points="358,519.07 358.91,507.84 360.32,494.38 361.83,474.14 363.44,468.47 364.75,469.58 365.66,476.36 366.96,478.59 368.57,483.14 370.08,494.38 371.49,512.39 373,534.86 374.62,552.87 376.43,566.33 378.14,576.45 380.45,584.35 383.07,588.8" fill="none" stroke="#34b4e4" stroke-width="0.9" stroke-linejoin="round"/>
<polyline points="358,532.63 359.61,516.84 361.83,496.6 363.44,485.37 365.25,474.14 366.36,471.91 367.87,478.59 369.28,479.7 370.79,489.82 372.4,507.84 374.11,525.85 375.92,543.87 377.53,557.33 379.04,568.56 380.86,575.34 383.07,579.79 385.39,582.53 388,583.23 390.92,583.84 393.14,585.46 396.56,586.57 400.99,587.69 407.74,588.8" fill="none" stroke="#e4404b" stroke-width="0.9" stroke-linejoin="round"/>
</g>
<rect x="357.4" y="454.3" width="134.7" height="134.5" fill="none" stroke="#111" stroke-width="1.5"/>
<path d="M357.4 453.6V589.5" stroke="#0c2433" stroke-width="1.9"/>
<path d="M356.7 588.8H492.8" stroke="#0a0a0a" stroke-width="1.8"/>
<path d="M357.4 588.8V592M367.54 588.8V590.6M373.47 588.8V590.6M377.67 588.8V590.6M380.94 588.8V590.6M383.6 588.8V590.6M385.86 588.8V590.6M387.81 588.8V590.6M389.53 588.8V590.6M391.07 588.8V592M401.21 588.8V590.6M407.14 588.8V590.6M411.35 588.8V590.6M414.61 588.8V590.6M417.28 588.8V590.6M419.53 588.8V590.6M421.49 588.8V590.6M423.21 588.8V590.6M424.75 588.8V592M434.89 588.8V590.6M440.82 588.8V590.6M445.02 588.8V590.6M448.29 588.8V590.6M450.95 588.8V590.6M453.21 588.8V590.6M455.16 588.8V590.6M456.88 588.8V590.6M458.43 588.8V592M468.56 588.8V590.6M474.49 588.8V590.6M478.7 588.8V590.6M481.96 588.8V590.6M484.63 588.8V590.6M486.88 588.8V590.6M488.84 588.8V590.6M490.56 588.8V590.6M492.1 588.8V592M357.4 588.8H354.2M357.4 584.25H355.8M357.4 579.69H355.8M357.4 575.14H355.8M357.4 570.58H355.8M357.4 566.03H354.2M357.4 561.47H355.8M357.4 556.92H355.8M357.4 552.37H355.8M357.4 547.81H355.8M357.4 543.26H354.2M357.4 538.7H355.8M357.4 534.15H355.8M357.4 529.6H355.8M357.4 525.04H355.8M357.4 520.49H354.2M357.4 515.93H355.8M357.4 511.38H355.8M357.4 506.82H355.8M357.4 502.27H355.8M357.4 497.72H354.2M357.4 493.16H355.8M357.4 488.61H355.8M357.4 484.05H355.8M357.4 479.5H355.8M357.4 474.95H354.2M357.4 470.39H355.8M357.4 465.84H355.8M357.4 461.28H355.8M357.4 456.73H355.8" stroke="#111" stroke-width="0.9" fill="none"/>
<path d="M404.31 562.28L492.1 562.28 M404.31 557.28V567.28 M492.1 557.28V567.28" stroke="#1a1a1a" stroke-width="1.3" fill="none"/>
<text x="487.3" y="475.7" font-size="14" text-anchor="end" fill="#111">0%</text>
<g clip-path="url(#pc16)">
<g fill="#8be6fb"><polygon points="497.7,588.8 497.7,519.07 497.9,519.07 498.81,489.82 500.21,480.91 501.72,476.36 503.33,471.9 505.14,473.02 506.85,469.57 508.46,467.35 509.97,474.13 511.78,487.59 513.59,503.38 515.81,521.39 518.02,534.85 520.33,546.09 522.95,557.32 525.67,567.44 528.58,575.34 531.9,580.91 536.43,585.46 543.07,588.8 543.07,588.8"/></g>
<polygon points="497.7,588.8 497.7,534.85 497.9,534.85 499.51,516.84 501.72,498.82 503.94,492.14 505.55,476.36 507.36,469.57 508.67,467.35 510.68,476.36 512.29,487.59 514,503.38 516.31,521.39 518.52,532.63 521.24,543.86 524.06,557.32 526.97,568.56 530.09,576.45 533.71,582.12 537.54,586.17 541.96,586.98 547.6,588.19 556.55,588.8 556.55,588.8" fill="#fd979a"/>
<g fill="#86a9c3" clip-path="url(#rc16)"><polygon points="497.7,588.8 497.7,519.07 497.9,519.07 498.81,489.82 500.21,480.91 501.72,476.36 503.33,471.9 505.14,473.02 506.85,469.57 508.46,467.35 509.97,474.13 511.78,487.59 513.59,503.38 515.81,521.39 518.02,534.85 520.33,546.09 522.95,557.32 525.67,567.44 528.58,575.34 531.9,580.91 536.43,585.46 543.07,588.8 543.07,588.8"/></g>
<polyline points="497.9,519.07 498.81,489.82 500.21,480.91 501.72,476.36 503.33,471.9 505.14,473.02 506.85,469.57 508.46,467.35 509.97,474.13 511.78,487.59 513.59,503.38 515.81,521.39 518.02,534.85 520.33,546.09 522.95,557.32 525.67,567.44 528.58,575.34 531.9,580.91 536.43,585.46 543.07,588.8" fill="none" stroke="#34b4e4" stroke-width="0.9" stroke-linejoin="round"/>
<polyline points="497.9,534.85 499.51,516.84 501.72,498.82 503.94,492.14 505.55,476.36 507.36,469.57 508.67,467.35 510.68,476.36 512.29,487.59 514,503.38 516.31,521.39 518.52,532.63 521.24,543.86 524.06,557.32 526.97,568.56 530.09,576.45 533.71,582.12 537.54,586.17 541.96,586.98 547.6,588.19 556.55,588.8" fill="none" stroke="#e4404b" stroke-width="0.9" stroke-linejoin="round"/>
</g>
<rect x="497.7" y="455" width="134.4" height="133.8" fill="none" stroke="#111" stroke-width="1.5"/>
<path d="M497.7 454.3V589.5" stroke="#0c2433" stroke-width="1.9"/>
<path d="M497 588.8H632.8" stroke="#0a0a0a" stroke-width="1.8"/>
<path d="M497.7 588.8V592M507.81 588.8V590.6M513.73 588.8V590.6M517.93 588.8V590.6M521.19 588.8V590.6M523.85 588.8V590.6M526.1 588.8V590.6M528.04 588.8V590.6M529.76 588.8V590.6M531.3 588.8V592M541.41 588.8V590.6M547.33 588.8V590.6M551.53 588.8V590.6M554.79 588.8V590.6M557.45 588.8V590.6M559.7 588.8V590.6M561.64 588.8V590.6M563.36 588.8V590.6M564.9 588.8V592M575.01 588.8V590.6M580.93 588.8V590.6M585.13 588.8V590.6M588.39 588.8V590.6M591.05 588.8V590.6M593.3 588.8V590.6M595.24 588.8V590.6M596.96 588.8V590.6M598.5 588.8V592M608.61 588.8V590.6M614.53 588.8V590.6M618.73 588.8V590.6M621.99 588.8V590.6M624.65 588.8V590.6M626.9 588.8V590.6M628.84 588.8V590.6M630.56 588.8V590.6M632.1 588.8V592M497.7 588.8H494.5M497.7 583.74H496.1M497.7 578.68H496.1M497.7 573.62H496.1M497.7 568.56H496.1M497.7 563.5H494.5M497.7 558.44H496.1M497.7 553.38H496.1M497.7 548.32H496.1M497.7 543.26H496.1M497.7 538.19H494.5M497.7 533.13H496.1M497.7 528.07H496.1M497.7 523.01H496.1M497.7 517.95H496.1M497.7 512.89H494.5M497.7 507.83H496.1M497.7 502.77H496.1M497.7 497.71H496.1M497.7 492.65H496.1M497.7 487.59H494.5M497.7 482.53H496.1M497.7 477.47H496.1M497.7 472.41H496.1M497.7 467.35H496.1M497.7 462.29H494.5M497.7 457.23H496.1" stroke="#111" stroke-width="0.9" fill="none"/>
<path d="M540.45 562.99L632.1 562.99 M540.45 557.99V567.99 M632.1 557.99V567.99" stroke="#1a1a1a" stroke-width="1.3" fill="none"/>
<text x="620.6" y="476.1" font-size="14" text-anchor="end" fill="#111">0%</text>
<g clip-path="url(#pc17)">
<g fill="#8be6fb"><polygon points="77.7,729.6 77.7,600.2 78.3,600.2 79.31,632.4 80.71,694.7 82.22,709.1 83.83,705.8 85.64,703.6 87.85,702.4 89.65,699.1 91.16,700.2 92.77,696.9 94.47,694.7 96.28,693.6 97.89,691.3 100.1,689.1 102.31,686.9 104.52,685.8 106.83,684.7 107.93,685.8 109.44,680.9 110.55,685.8 112.35,692.4 114.56,699.1 116.87,705.8 119.49,712.4 122.4,719.1 125.81,724 129.13,726.9 133.55,729.5 133.55,729.6"/><rect x="77.7" y="600" width="1.7" height="129.6"/></g>
<polygon points="143.59,729.6 143.59,729.5 150.32,728.5 157.05,726.2 163.68,723.6 169.31,721.8 173.13,720.2 176.64,715.8 179.35,710.2 181.56,703.6 183.77,692.4 186.08,679.1 188.29,663.6 190.5,650.2 192.71,636.9 194.92,623.6 197.23,612.4 198.94,608.4 200.55,609.1 202.15,616.9 203.86,628 205.67,645.8 207.28,661.3 208.78,676.9 210.59,694.7 211.8,692.4 211.8,729.6" fill="#fd979a"/>
<g fill="#86a9c3" clip-path="url(#rc17)"><polygon points="77.7,729.6 77.7,600.2 78.3,600.2 79.31,632.4 80.71,694.7 82.22,709.1 83.83,705.8 85.64,703.6 87.85,702.4 89.65,699.1 91.16,700.2 92.77,696.9 94.47,694.7 96.28,693.6 97.89,691.3 100.1,689.1 102.31,686.9 104.52,685.8 106.83,684.7 107.93,685.8 109.44,680.9 110.55,685.8 112.35,692.4 114.56,699.1 116.87,705.8 119.49,712.4 122.4,719.1 125.81,724 129.13,726.9 133.55,729.5 133.55,729.6"/><rect x="77.7" y="600" width="1.7" height="129.6"/></g>
<polyline points="78.3,600.2 79.31,632.4 80.71,694.7 82.22,709.1 83.83,705.8 85.64,703.6 87.85,702.4 89.65,699.1 91.16,700.2 92.77,696.9 94.47,694.7 96.28,693.6 97.89,691.3 100.1,689.1 102.31,686.9 104.52,685.8 106.83,684.7 107.93,685.8 109.44,680.9 110.55,685.8 112.35,692.4 114.56,699.1 116.87,705.8 119.49,712.4 122.4,719.1 125.81,724 129.13,726.9 133.55,729.5" fill="none" stroke="#34b4e4" stroke-width="0.9" stroke-linejoin="round"/>
<polyline points="143.59,729.5 150.32,728.5 157.05,726.2 163.68,723.6 169.31,721.8 173.13,720.2 176.64,715.8 179.35,710.2 181.56,703.6 183.77,692.4 186.08,679.1 188.29,663.6 190.5,650.2 192.71,636.9 194.92,623.6 197.23,612.4 198.94,608.4 200.55,609.1 202.15,616.9 203.86,628 205.67,645.8 207.28,661.3 208.78,676.9 210.59,694.7 211.8,692.4" fill="none" stroke="#e4404b" stroke-width="0.9" stroke-linejoin="round"/>
</g>
<rect x="77.7" y="595" width="134.7" height="134.6" fill="none" stroke="#111" stroke-width="1.5"/>
<path d="M77.7 594.3V730.3" stroke="#0c2433" stroke-width="1.9"/>
<path d="M77 729.6H213.1" stroke="#0a0a0a" stroke-width="1.8"/>
<path d="M77.7 729.6V732.8M87.84 729.6V731.4M93.77 729.6V731.4M97.97 729.6V731.4M101.24 729.6V731.4M103.9 729.6V731.4M106.16 729.6V731.4M108.11 729.6V731.4M109.83 729.6V731.4M111.38 729.6V732.8M121.51 729.6V731.4M127.44 729.6V731.4M131.65 729.6V731.4M134.91 729.6V731.4M137.58 729.6V731.4M139.83 729.6V731.4M141.79 729.6V731.4M143.51 729.6V731.4M145.05 729.6V732.8M155.19 729.6V731.4M161.12 729.6V731.4M165.32 729.6V731.4M168.59 729.6V731.4M171.25 729.6V731.4M173.51 729.6V731.4M175.46 729.6V731.4M177.18 729.6V731.4M178.72 729.6V732.8M188.86 729.6V731.4M194.79 729.6V731.4M199 729.6V731.4M202.26 729.6V731.4M204.93 729.6V731.4M207.18 729.6V731.4M209.14 729.6V731.4M210.86 729.6V731.4M212.4 729.6V732.8M77.7 729.6H74.5M77.7 719.02H76.1M77.7 708.45H76.1M77.7 697.88H76.1M77.7 687.3H74.5M77.7 676.73H76.1M77.7 666.15H76.1M77.7 655.58H76.1M77.7 645H74.5M77.7 634.43H76.1M77.7 623.85H76.1M77.7 613.28H76.1M77.7 602.7H74.5" stroke="#111" stroke-width="0.9" fill="none"/>
<path d="M145.9 705.8L212.4 705.8 M145.9 700.8V710.8 M212.4 700.8V710.8" stroke="#1a1a1a" stroke-width="1.3" fill="none"/>
<text x="189.5" y="620.7" font-size="14" text-anchor="end" fill="#111">100%</text>
<text x="71.6" y="730.25" font-size="6.3" text-anchor="end" fill="#333">0</text>
<text x="71.6" y="692.15" font-size="6.3" text-anchor="end" fill="#333">100</text>
<text x="71.6" y="649.85" font-size="6.3" text-anchor="end" fill="#333">200</text>
<text x="71.6" y="607.55" font-size="6.3" text-anchor="end" fill="#333">300</text>
<text transform="translate(57.6 661.8) rotate(-90)" font-size="6.5" text-anchor="middle" fill="#222">Count</text>
<text transform="translate(41 649.3) rotate(-90)" font-size="17.5" text-anchor="middle" fill="#000">CD24</text>
<text x="84.7" y="746.6" font-size="6.3" text-anchor="middle" fill="#222">10<tspan dy="-3.6" font-size="5">0</tspan></text>
<text x="113.38" y="746.6" font-size="6.3" text-anchor="middle" fill="#222">10<tspan dy="-3.6" font-size="5">1</tspan></text>
<text x="147.75" y="746.6" font-size="6.3" text-anchor="middle" fill="#222">10<tspan dy="-3.6" font-size="5">2</tspan></text>
<text x="180.72" y="746.6" font-size="6.3" text-anchor="middle" fill="#222">10<tspan dy="-3.6" font-size="5">3</tspan></text>
<text x="208.1" y="746.6" font-size="6.3" text-anchor="middle" fill="#222">10<tspan dy="-3.6" font-size="5">4</tspan></text>
<text x="145.05" y="757.8" font-size="6.3" text-anchor="middle" fill="#222">Comp-FL 8 Log :: APC</text>
<g clip-path="url(#pc18)">
<g fill="#8be6fb"><polygon points="218.2,729.3 218.2,598.01 218.7,598.01 219.8,654.83 221.11,701.54 222.21,707.15 224.41,702.64 226.72,698.23 228.92,692.62 231.13,686 233.33,679.29 235.64,671.47 236.74,668.16 237.84,670.37 239.35,668.16 241.15,667.06 242.96,661.45 244.46,657.04 245.66,648.12 246.76,651.43 247.87,643.71 248.97,636.99 250.07,635.19 251.17,641.4 252.28,650.32 254.08,654.83 255.68,665.96 257.19,681.49 258.99,694.92 261.2,708.25 263.4,717.17 266.81,723.89 270.12,727.2 274.53,729.3 274.53,729.3"/><rect x="218.2" y="598.01" width="1.7" height="131.29"/></g>
<polygon points="283.45,729.3 283.45,729.3 294.57,728.3 303.49,727.2 309.1,724.29 312.91,721.58 315.82,717.17 318.63,709.36 320.93,699.33 323.14,688.21 325.34,674.88 327.55,661.45 329.85,648.12 331.35,639.2 332.96,623.66 334.66,614.74 336.97,611.34 338.07,609.13 339.87,609.13 341.38,616.95 343.18,623.66 344.68,636.99 346.29,654.83 348.09,672.57 349.9,687.11 351,678.19 351.4,690.41 351.4,729.3" fill="#fd979a"/>
<g fill="#86a9c3" clip-path="url(#rc18)"><polygon points="218.2,729.3 218.2,598.01 218.7,598.01 219.8,654.83 221.11,701.54 222.21,707.15 224.41,702.64 226.72,698.23 228.92,692.62 231.13,686 233.33,679.29 235.64,671.47 236.74,668.16 237.84,670.37 239.35,668.16 241.15,667.06 242.96,661.45 244.46,657.04 245.66,648.12 246.76,651.43 247.87,643.71 248.97,636.99 250.07,635.19 251.17,641.4 252.28,650.32 254.08,654.83 255.68,665.96 257.19,681.49 258.99,694.92 261.2,708.25 263.4,717.17 266.81,723.89 270.12,727.2 274.53,729.3 274.53,729.3"/><rect x="218.2" y="598.01" width="1.7" height="131.29"/></g>
<polyline points="218.7,598.01 219.8,654.83 221.11,701.54 222.21,707.15 224.41,702.64 226.72,698.23 228.92,692.62 231.13,686 233.33,679.29 235.64,671.47 236.74,668.16 237.84,670.37 239.35,668.16 241.15,667.06 242.96,661.45 244.46,657.04 245.66,648.12 246.76,651.43 247.87,643.71 248.97,636.99 250.07,635.19 251.17,641.4 252.28,650.32 254.08,654.83 255.68,665.96 257.19,681.49 258.99,694.92 261.2,708.25 263.4,717.17 266.81,723.89 270.12,727.2 274.53,729.3" fill="none" stroke="#34b4e4" stroke-width="0.9" stroke-linejoin="round"/>
<polyline points="283.45,729.3 294.57,728.3 303.49,727.2 309.1,724.29 312.91,721.58 315.82,717.17 318.63,709.36 320.93,699.33 323.14,688.21 325.34,674.88 327.55,661.45 329.85,648.12 331.35,639.2 332.96,623.66 334.66,614.74 336.97,611.34 338.07,609.13 339.87,609.13 341.38,616.95 343.18,623.66 344.68,636.99 346.29,654.83 348.09,672.57 349.9,687.11 351,678.19 351.4,690.41" fill="none" stroke="#e4404b" stroke-width="0.9" stroke-linejoin="round"/>
</g>
<rect x="218.2" y="595.1" width="133.7" height="134.2" fill="none" stroke="#111" stroke-width="1.5"/>
<path d="M218.2 594.4V730" stroke="#0c2433" stroke-width="1.9"/>
<path d="M217.5 729.3H352.6" stroke="#0a0a0a" stroke-width="1.8"/>
<path d="M218.2 729.3V732.5M228.26 729.3V731.1M234.15 729.3V731.1M238.32 729.3V731.1M241.56 729.3V731.1M244.21 729.3V731.1M246.45 729.3V731.1M248.39 729.3V731.1M250.1 729.3V731.1M251.62 729.3V732.5M261.69 729.3V731.1M267.57 729.3V731.1M271.75 729.3V731.1M274.99 729.3V731.1M277.63 729.3V731.1M279.87 729.3V731.1M281.81 729.3V731.1M283.52 729.3V731.1M285.05 729.3V732.5M295.11 729.3V731.1M301 729.3V731.1M305.17 729.3V731.1M308.41 729.3V731.1M311.06 729.3V731.1M313.3 729.3V731.1M315.24 729.3V731.1M316.95 729.3V731.1M318.47 729.3V732.5M328.54 729.3V731.1M334.42 729.3V731.1M338.6 729.3V731.1M341.84 729.3V731.1M344.48 729.3V731.1M346.72 729.3V731.1M348.66 729.3V731.1M350.37 729.3V731.1M351.9 729.3V732.5M218.2 729.3H215M218.2 721.03H216.6M218.2 712.76H216.6M218.2 704.49H216.6M218.2 696.23H215M218.2 687.96H216.6M218.2 679.69H216.6M218.2 671.42H216.6M218.2 663.15H215M218.2 654.88H216.6M218.2 646.62H216.6M218.2 638.35H216.6M218.2 630.08H215M218.2 621.81H216.6M218.2 613.54H216.6M218.2 605.27H216.6M218.2 597H215" stroke="#111" stroke-width="0.9" fill="none"/>
<path d="M283.45 704.44L351.9 704.44 M283.45 699.44V709.44 M351.9 699.44V709.44" stroke="#1a1a1a" stroke-width="1.3" fill="none"/>
<text x="331.7" y="620.7" font-size="14" text-anchor="end" fill="#111">100%</text>
<text x="225.2" y="746.3" font-size="6.3" text-anchor="middle" fill="#222">10<tspan dy="-3.6" font-size="5">0</tspan></text>
<text x="253.62" y="746.3" font-size="6.3" text-anchor="middle" fill="#222">10<tspan dy="-3.6" font-size="5">1</tspan></text>
<text x="287.75" y="746.3" font-size="6.3" text-anchor="middle" fill="#222">10<tspan dy="-3.6" font-size="5">2</tspan></text>
<text x="320.47" y="746.3" font-size="6.3" text-anchor="middle" fill="#222">10<tspan dy="-3.6" font-size="5">3</tspan></text>
<text x="347.6" y="746.3" font-size="6.3" text-anchor="middle" fill="#222">10<tspan dy="-3.6" font-size="5">4</tspan></text>
<text x="285.05" y="757.5" font-size="6.3" text-anchor="middle" fill="#222">Comp-FL 8 Log :: APC</text>
<g clip-path="url(#pc19)">
<g fill="#8be6fb"><polygon points="358.2,730 358.2,598.02 358.7,598.02 359.8,677.51 360.71,703.91 362.21,704.81 364.41,704.81 366.02,702.09 367.32,696.55 368.92,694.33 371.13,693.13 373.33,692.02 374.94,690.91 376.74,689.8 378.24,694.33 380.05,695.44 382.25,694.33 383.86,696.55 385.66,698.77 387.37,700.98 388.97,704.41 390.47,706.63 391.88,713.28 393.38,720.03 395.68,725.67 398.49,728.59 402.3,730 402.3,730"/><rect x="358.2" y="598.02" width="1.7" height="131.98"/></g>
<polygon points="432.37,730 432.37,730 439.08,728.59 445.8,727.18 450.21,724.56 453.51,721.13 456.42,715.59 459.13,708.84 461.33,699.88 463.54,688.69 465.84,677.51 468.05,666.33 469.85,657.36 471.35,654.03 472.46,655.14 473.56,647.28 474.66,636.1 476.26,630.46 478.07,626.03 479.17,619.27 480.27,613.73 481.88,621.49 483.58,622.6 485.39,630.46 486.99,638.32 488.49,642.75 489.9,639.43 490.7,601.34 491.4,600.23 491.4,730" fill="#fd979a"/>
<g fill="#86a9c3" clip-path="url(#rc19)"><polygon points="358.2,730 358.2,598.02 358.7,598.02 359.8,677.51 360.71,703.91 362.21,704.81 364.41,704.81 366.02,702.09 367.32,696.55 368.92,694.33 371.13,693.13 373.33,692.02 374.94,690.91 376.74,689.8 378.24,694.33 380.05,695.44 382.25,694.33 383.86,696.55 385.66,698.77 387.37,700.98 388.97,704.41 390.47,706.63 391.88,713.28 393.38,720.03 395.68,725.67 398.49,728.59 402.3,730 402.3,730"/><rect x="358.2" y="598.02" width="1.7" height="131.98"/></g>
<polyline points="358.7,598.02 359.8,677.51 360.71,703.91 362.21,704.81 364.41,704.81 366.02,702.09 367.32,696.55 368.92,694.33 371.13,693.13 373.33,692.02 374.94,690.91 376.74,689.8 378.24,694.33 380.05,695.44 382.25,694.33 383.86,696.55 385.66,698.77 387.37,700.98 388.97,704.41 390.47,706.63 391.88,713.28 393.38,720.03 395.68,725.67 398.49,728.59 402.3,730" fill="none" stroke="#34b4e4" stroke-width="0.9" stroke-linejoin="round"/>
<polyline points="432.37,730 439.08,728.59 445.8,727.18 450.21,724.56 453.51,721.13 456.42,715.59 459.13,708.84 461.33,699.88 463.54,688.69 465.84,677.51 468.05,666.33 469.85,657.36 471.35,654.03 472.46,655.14 473.56,647.28 474.66,636.1 476.26,630.46 478.07,626.03 479.17,619.27 480.27,613.73 481.88,621.49 483.58,622.6 485.39,630.46 486.99,638.32 488.49,642.75 489.9,639.43 490.7,601.34 491.4,600.23" fill="none" stroke="#e4404b" stroke-width="0.9" stroke-linejoin="round"/>
</g>
<rect x="358.2" y="595.8" width="133.7" height="134.2" fill="none" stroke="#111" stroke-width="1.5"/>
<path d="M358.2 595.1V730.7" stroke="#0c2433" stroke-width="1.9"/>
<path d="M357.5 730H492.6" stroke="#0a0a0a" stroke-width="1.8"/>
<path d="M358.2 730V733.2M368.26 730V731.8M374.15 730V731.8M378.32 730V731.8M381.56 730V731.8M384.21 730V731.8M386.45 730V731.8M388.39 730V731.8M390.1 730V731.8M391.62 730V733.2M401.69 730V731.8M407.57 730V731.8M411.75 730V731.8M414.99 730V731.8M417.63 730V731.8M419.87 730V731.8M421.81 730V731.8M423.52 730V731.8M425.05 730V733.2M435.11 730V731.8M441 730V731.8M445.17 730V731.8M448.41 730V731.8M451.06 730V731.8M453.3 730V731.8M455.24 730V731.8M456.95 730V731.8M458.47 730V733.2M468.54 730V731.8M474.42 730V731.8M478.6 730V731.8M481.84 730V731.8M484.48 730V731.8M486.72 730V731.8M488.66 730V731.8M490.37 730V731.8M491.9 730V733.2M358.2 730H355M358.2 721.44H356.6M358.2 712.87H356.6M358.2 704.31H356.6M358.2 695.74H355M358.2 687.18H356.6M358.2 678.62H356.6M358.2 670.05H356.6M358.2 661.49H355M358.2 652.93H356.6M358.2 644.36H356.6M358.2 635.8H356.6M358.2 627.23H355M358.2 618.67H356.6M358.2 610.11H356.6M358.2 601.54H356.6" stroke="#111" stroke-width="0.9" fill="none"/>
<path d="M411.22 704.81L491.9 704.81 M411.22 699.81V709.81 M491.9 699.81V709.81" stroke="#1a1a1a" stroke-width="1.3" fill="none"/>
<text x="462.4" y="620.2" font-size="14" text-anchor="end" fill="#111">100%</text>
<text x="365.2" y="747" font-size="6.3" text-anchor="middle" fill="#222">10<tspan dy="-3.6" font-size="5">0</tspan></text>
<text x="393.62" y="747" font-size="6.3" text-anchor="middle" fill="#222">10<tspan dy="-3.6" font-size="5">1</tspan></text>
<text x="427.75" y="747" font-size="6.3" text-anchor="middle" fill="#222">10<tspan dy="-3.6" font-size="5">2</tspan></text>
<text x="460.47" y="747" font-size="6.3" text-anchor="middle" fill="#222">10<tspan dy="-3.6" font-size="5">3</tspan></text>
<text x="487.6" y="747" font-size="6.3" text-anchor="middle" fill="#222">10<tspan dy="-3.6" font-size="5">4</tspan></text>
<text x="425.05" y="758.2" font-size="6.3" text-anchor="middle" fill="#222">Comp-FL 8 Log :: APC</text>
<g clip-path="url(#pc20)">
<g fill="#8be6fb"><polygon points="498.1,731 498.1,601.33 498.6,601.33 499.91,655.05 500.82,695.29 501.93,699.71 504.14,699.71 506.46,697.5 508.68,691.87 510.89,686.33 512.51,685.23 513.82,686.33 515.43,678.49 516.94,686.33 518.75,682.91 520.97,684.12 523.19,689.65 525.5,688.55 527.72,689.65 529.53,682.91 531.04,686.33 532.15,697.5 533.97,710.88 536.18,720.94 538.9,727.68 542.23,731 542.23,731"/><rect x="498.1" y="601.03" width="1.7" height="129.97"/></g>
<polygon points="556.84,731 556.84,731 563.49,729.89 570.24,726.57 575.88,723.15 580.31,720.34 583.63,717.62 586.35,714.9 588.57,713.09 590.79,709.77 593.1,704.24 595.32,695.29 597.54,688.55 599.75,679.59 602.07,671.75 604.29,665.11 606.5,659.47 608.72,655.05 610.94,648.31 612.75,641.57 614.56,638.25 616.18,636.04 617.69,629.3 619.5,621.45 620.61,620.34 621.72,624.87 623.33,621.45 624.64,622.56 626.25,632.62 628.47,646.1 630.28,656.16 632.19,662.79 632.19,731" fill="#fd979a"/>
<g fill="#86a9c3" clip-path="url(#rc20)"><polygon points="498.1,731 498.1,601.33 498.6,601.33 499.91,655.05 500.82,695.29 501.93,699.71 504.14,699.71 506.46,697.5 508.68,691.87 510.89,686.33 512.51,685.23 513.82,686.33 515.43,678.49 516.94,686.33 518.75,682.91 520.97,684.12 523.19,689.65 525.5,688.55 527.72,689.65 529.53,682.91 531.04,686.33 532.15,697.5 533.97,710.88 536.18,720.94 538.9,727.68 542.23,731 542.23,731"/><rect x="498.1" y="601.03" width="1.7" height="129.97"/></g>
<polyline points="498.6,601.33 499.91,655.05 500.82,695.29 501.93,699.71 504.14,699.71 506.46,697.5 508.68,691.87 510.89,686.33 512.51,685.23 513.82,686.33 515.43,678.49 516.94,686.33 518.75,682.91 520.97,684.12 523.19,689.65 525.5,688.55 527.72,689.65 529.53,682.91 531.04,686.33 532.15,697.5 533.97,710.88 536.18,720.94 538.9,727.68 542.23,731" fill="none" stroke="#34b4e4" stroke-width="0.9" stroke-linejoin="round"/>
<polyline points="556.84,731 563.49,729.89 570.24,726.57 575.88,723.15 580.31,720.34 583.63,717.62 586.35,714.9 588.57,713.09 590.79,709.77 593.1,704.24 595.32,695.29 597.54,688.55 599.75,679.59 602.07,671.75 604.29,665.11 606.5,659.47 608.72,655.05 610.94,648.31 612.75,641.57 614.56,638.25 616.18,636.04 617.69,629.3 619.5,621.45 620.61,620.34 621.72,624.87 623.33,621.45 624.64,622.56 626.25,632.62 628.47,646.1 630.28,656.16 632.19,662.79" fill="none" stroke="#e4404b" stroke-width="0.9" stroke-linejoin="round"/>
</g>
<rect x="498.1" y="596.4" width="134.8" height="134.6" fill="none" stroke="#111" stroke-width="1.5"/>
<path d="M498.1 595.7V731.7" stroke="#0c2433" stroke-width="1.9"/>
<path d="M497.4 731H633.6" stroke="#0a0a0a" stroke-width="1.8"/>
<path d="M498.1 731V734.2M508.24 731V732.8M514.18 731V732.8M518.39 731V732.8M521.66 731V732.8M524.32 731V732.8M526.58 731V732.8M528.53 731V732.8M530.26 731V732.8M531.8 731V734.2M541.94 731V732.8M547.88 731V732.8M552.09 731V732.8M555.36 731V732.8M558.02 731V732.8M560.28 731V732.8M562.23 731V732.8M563.96 731V732.8M565.5 731V734.2M575.64 731V732.8M581.58 731V732.8M585.79 731V732.8M589.06 731V732.8M591.72 731V732.8M593.98 731V732.8M595.93 731V732.8M597.66 731V732.8M599.2 731V734.2M609.34 731V732.8M615.28 731V732.8M619.49 731V732.8M622.76 731V732.8M625.42 731V732.8M627.68 731V732.8M629.63 731V732.8M631.36 731V732.8M632.9 731V734.2M498.1 731H494.9M498.1 722.45H496.5M498.1 713.9H496.5M498.1 705.35H496.5M498.1 696.8H494.9M498.1 688.25H496.5M498.1 679.7H496.5M498.1 671.14H496.5M498.1 662.59H494.9M498.1 654.04H496.5M498.1 645.49H496.5M498.1 636.94H496.5M498.1 628.39H494.9M498.1 619.84H496.5M498.1 611.29H496.5M498.1 602.74H496.5" stroke="#111" stroke-width="0.9" fill="none"/>
<path d="M551.9 705.35L632.9 705.35 M551.9 700.35V710.35 M632.9 700.35V710.35" stroke="#1a1a1a" stroke-width="1.3" fill="none"/>
<text x="599.9" y="620.2" font-size="14" text-anchor="end" fill="#111">100%</text>
<text x="505.1" y="748" font-size="6.3" text-anchor="middle" fill="#222">10<tspan dy="-3.6" font-size="5">0</tspan></text>
<text x="533.8" y="748" font-size="6.3" text-anchor="middle" fill="#222">10<tspan dy="-3.6" font-size="5">1</tspan></text>
<text x="568.2" y="748" font-size="6.3" text-anchor="middle" fill="#222">10<tspan dy="-3.6" font-size="5">2</tspan></text>
<text x="601.2" y="748" font-size="6.3" text-anchor="middle" fill="#222">10<tspan dy="-3.6" font-size="5">3</tspan></text>
<text x="628.6" y="748" font-size="6.3" text-anchor="middle" fill="#222">10<tspan dy="-3.6" font-size="5">4</tspan></text>
<text x="565.5" y="759.2" font-size="6.3" text-anchor="middle" fill="#222">Comp-FL 8 Log :: APC</text>
<text x="149.5" y="14.6" font-size="17.3" text-anchor="middle" fill="#000">MT</text>
<text x="287.7" y="14.6" font-size="17.3" text-anchor="middle" fill="#1b1bcc">ET-MT</text>
<text x="418.2" y="14.6" font-size="17.3" text-anchor="middle" fill="#1ea51e">ET</text>
<text x="565.8" y="14.6" font-size="17.3" text-anchor="middle" fill="#dc1818">MT-ET</text>
<text x="1.9" y="16.2" font-size="17.6" font-weight="bold" fill="#000">A</text>
<text x="2.8" y="781.2" font-size="15" font-weight="bold" fill="#000">B</text>
<text x="79" y="779.8" font-size="12" font-weight="bold" fill="#000">OCT4B</text>
<rect x="94.9" y="895.7" width="24.1" height="6" fill="#000000" stroke="#000" stroke-width="1.8"/>
<path d="M106.95 901.7V906.2" stroke="#000" stroke-width="1.6"/>
<text transform="translate(108.85 915.1) rotate(-45)" font-size="12" text-anchor="end" fill="#111">MT</text>
<path d="M143.7 884.4V872 M137.1 872H150.3" stroke="#000" stroke-width="1.8" fill="none"/>
<rect x="131.9" y="885.3" width="23.6" height="16.4" fill="#0b45f2" stroke="#000" stroke-width="1.8"/>
<path d="M143.7 901.7V906.2" stroke="#000" stroke-width="1.6"/>
<text transform="translate(145.6 915.1) rotate(-45)" font-size="12" text-anchor="end" fill="#111">ET-MT</text>
<path d="M180.2 855.1V817.8 M173.6 817.8H186.8" stroke="#000" stroke-width="1.8" fill="none"/>
<rect x="168.4" y="856" width="23.6" height="45.7" fill="#007800" stroke="#000" stroke-width="1.8"/>
<path d="M180.2 901.7V906.2" stroke="#000" stroke-width="1.6"/>
<text transform="translate(182.1 915.1) rotate(-45)" font-size="12" text-anchor="end" fill="#111">ET</text>
<path d="M217.05 896V892.1 M210.45 892.1H223.65" stroke="#000" stroke-width="1.8" fill="none"/>
<rect x="205.3" y="896.9" width="23.5" height="4.8" fill="#cc0000" stroke="#000" stroke-width="1.8"/>
<path d="M217.05 901.7V906.2" stroke="#000" stroke-width="1.6"/>
<text transform="translate(218.95 915.1) rotate(-45)" font-size="12" text-anchor="end" fill="#111">MT-ET</text>
<path d="M76.4 786.7V901.7 M75.5 901.7H247.6" stroke="#000" stroke-width="1.8" fill="none"/>
<path d="M76.4 901.7H72.2" stroke="#000" stroke-width="1.6"/>
<text x="71.2" y="906" font-size="12" text-anchor="end" fill="#111">0</text>
<path d="M76.4 863.67H72.2" stroke="#000" stroke-width="1.6"/>
<text x="71.2" y="867.97" font-size="12" text-anchor="end" fill="#111">5</text>
<path d="M76.4 825.63H72.2" stroke="#000" stroke-width="1.6"/>
<text x="71.2" y="829.93" font-size="12" text-anchor="end" fill="#111">10</text>
<path d="M76.4 787.6H72.2" stroke="#000" stroke-width="1.6"/>
<text x="71.2" y="791.9" font-size="12" text-anchor="end" fill="#111">15</text>
<text transform="translate(50.3 850.6) rotate(-90)" font-size="12" text-anchor="middle" fill="#111">MFI</text>
<text x="285.6" y="779.8" font-size="12" font-weight="bold" fill="#000">SSEA4</text>
<rect x="309.3" y="884.6" width="23.7" height="17" fill="#000000" stroke="#000" stroke-width="1.8"/>
<path d="M321.15 901.6V906.1" stroke="#000" stroke-width="1.6"/>
<text transform="translate(323.05 915) rotate(-45)" font-size="12" text-anchor="end" fill="#111">MT</text>
<path d="M357.8 879.2V875.2 M351.2 875.2H364.4" stroke="#000" stroke-width="1.8" fill="none"/>
<rect x="346.1" y="880.1" width="23.4" height="21.5" fill="#0b45f2" stroke="#000" stroke-width="1.8"/>
<path d="M357.8 901.6V906.1" stroke="#000" stroke-width="1.6"/>
<text transform="translate(359.7 915) rotate(-45)" font-size="12" text-anchor="end" fill="#111">ET-MT</text>
<path d="M394.5 845.5V825.7 M387.9 825.7H401.1" stroke="#000" stroke-width="1.8" fill="none"/>
<rect x="382.9" y="846.4" width="23.2" height="55.2" fill="#007800" stroke="#000" stroke-width="1.8"/>
<path d="M394.5 901.6V906.1" stroke="#000" stroke-width="1.6"/>
<text transform="translate(396.4 915) rotate(-45)" font-size="12" text-anchor="end" fill="#111">ET</text>
<path d="M431.3 827.2V808.5 M424.7 808.5H437.9" stroke="#000" stroke-width="1.8" fill="none"/>
<rect x="419.5" y="828.1" width="23.6" height="73.5" fill="#cc0000" stroke="#000" stroke-width="1.8"/>
<path d="M431.3 901.6V906.1" stroke="#000" stroke-width="1.6"/>
<text transform="translate(433.2 915) rotate(-45)" font-size="12" text-anchor="end" fill="#111">MT-ET</text>
<path d="M290.6 786.4V901.6 M289.7 901.6H461.8" stroke="#000" stroke-width="1.8" fill="none"/>
<path d="M290.6 901.6H286.4" stroke="#000" stroke-width="1.6"/>
<text x="285.4" y="905.9" font-size="12" text-anchor="end" fill="#111">0</text>
<path d="M290.6 863.5H286.4" stroke="#000" stroke-width="1.6"/>
<text x="285.4" y="867.8" font-size="12" text-anchor="end" fill="#111">2</text>
<path d="M290.6 825.4H286.4" stroke="#000" stroke-width="1.6"/>
<text x="285.4" y="829.7" font-size="12" text-anchor="end" fill="#111">4</text>
<path d="M290.6 787.3H286.4" stroke="#000" stroke-width="1.6"/>
<text x="285.4" y="791.6" font-size="12" text-anchor="end" fill="#111">6</text>
<text transform="translate(271.5 850.6) rotate(-90)" font-size="12" text-anchor="middle" fill="#111">MFI</text>
<text x="500.6" y="779.8" font-size="12" font-weight="bold" fill="#000">CD24</text>
<rect x="520.2" y="875" width="23.4" height="27" fill="#000000" stroke="#000" stroke-width="1.8"/>
<path d="M531.9 902V906.5" stroke="#000" stroke-width="1.6"/>
<text transform="translate(533.8 915.4) rotate(-45)" font-size="12" text-anchor="end" fill="#111">MT</text>
<path d="M569.05 869.7V866.3 M562.45 866.3H575.65" stroke="#000" stroke-width="1.8" fill="none"/>
<rect x="557.7" y="870.6" width="22.7" height="31.4" fill="#0b45f2" stroke="#000" stroke-width="1.8"/>
<path d="M569.05 902V906.5" stroke="#000" stroke-width="1.6"/>
<text transform="translate(570.95 915.4) rotate(-45)" font-size="12" text-anchor="end" fill="#111">ET-MT</text>
<path d="M606.15 849.3V823.7 M599.55 823.7H612.75" stroke="#000" stroke-width="1.8" fill="none"/>
<rect x="594.8" y="850.2" width="22.7" height="51.8" fill="#007800" stroke="#000" stroke-width="1.8"/>
<path d="M606.15 902V906.5" stroke="#000" stroke-width="1.6"/>
<text transform="translate(608.05 915.4) rotate(-45)" font-size="12" text-anchor="end" fill="#111">ET</text>
<path d="M642.6 847.2V814.5 M636 814.5H649.2" stroke="#000" stroke-width="1.8" fill="none"/>
<rect x="631.6" y="848.1" width="22" height="53.9" fill="#cc0000" stroke="#000" stroke-width="1.8"/>
<path d="M642.6 902V906.5" stroke="#000" stroke-width="1.6"/>
<text transform="translate(644.5 915.4) rotate(-45)" font-size="12" text-anchor="end" fill="#111">MT-ET</text>
<path d="M500.2 787.4V902 M499.3 902H671.6" stroke="#000" stroke-width="1.8" fill="none"/>
<path d="M500.2 902H496" stroke="#000" stroke-width="1.6"/>
<text x="495" y="906.3" font-size="12" text-anchor="end" fill="#111">0</text>
<path d="M500.2 873.58H496" stroke="#000" stroke-width="1.6"/>
<text x="495" y="877.88" font-size="12" text-anchor="end" fill="#111">1</text>
<path d="M500.2 845.15H496" stroke="#000" stroke-width="1.6"/>
<text x="495" y="849.45" font-size="12" text-anchor="end" fill="#111">2</text>
<path d="M500.2 816.72H496" stroke="#000" stroke-width="1.6"/>
<text x="495" y="821.02" font-size="12" text-anchor="end" fill="#111">3</text>
<path d="M500.2 788.3H496" stroke="#000" stroke-width="1.6"/>
<text x="495" y="792.6" font-size="12" text-anchor="end" fill="#111">4</text>
<text transform="translate(482.2 850.6) rotate(-90)" font-size="12" text-anchor="middle" fill="#111">MFI</text>
<path d="M356.4 864.8V801.2H429.6V803" stroke="#222" stroke-width="1" fill="none"/>
<text x="391" y="801.5" font-size="17" text-anchor="middle" fill="#000">*</text></svg></body></html>
